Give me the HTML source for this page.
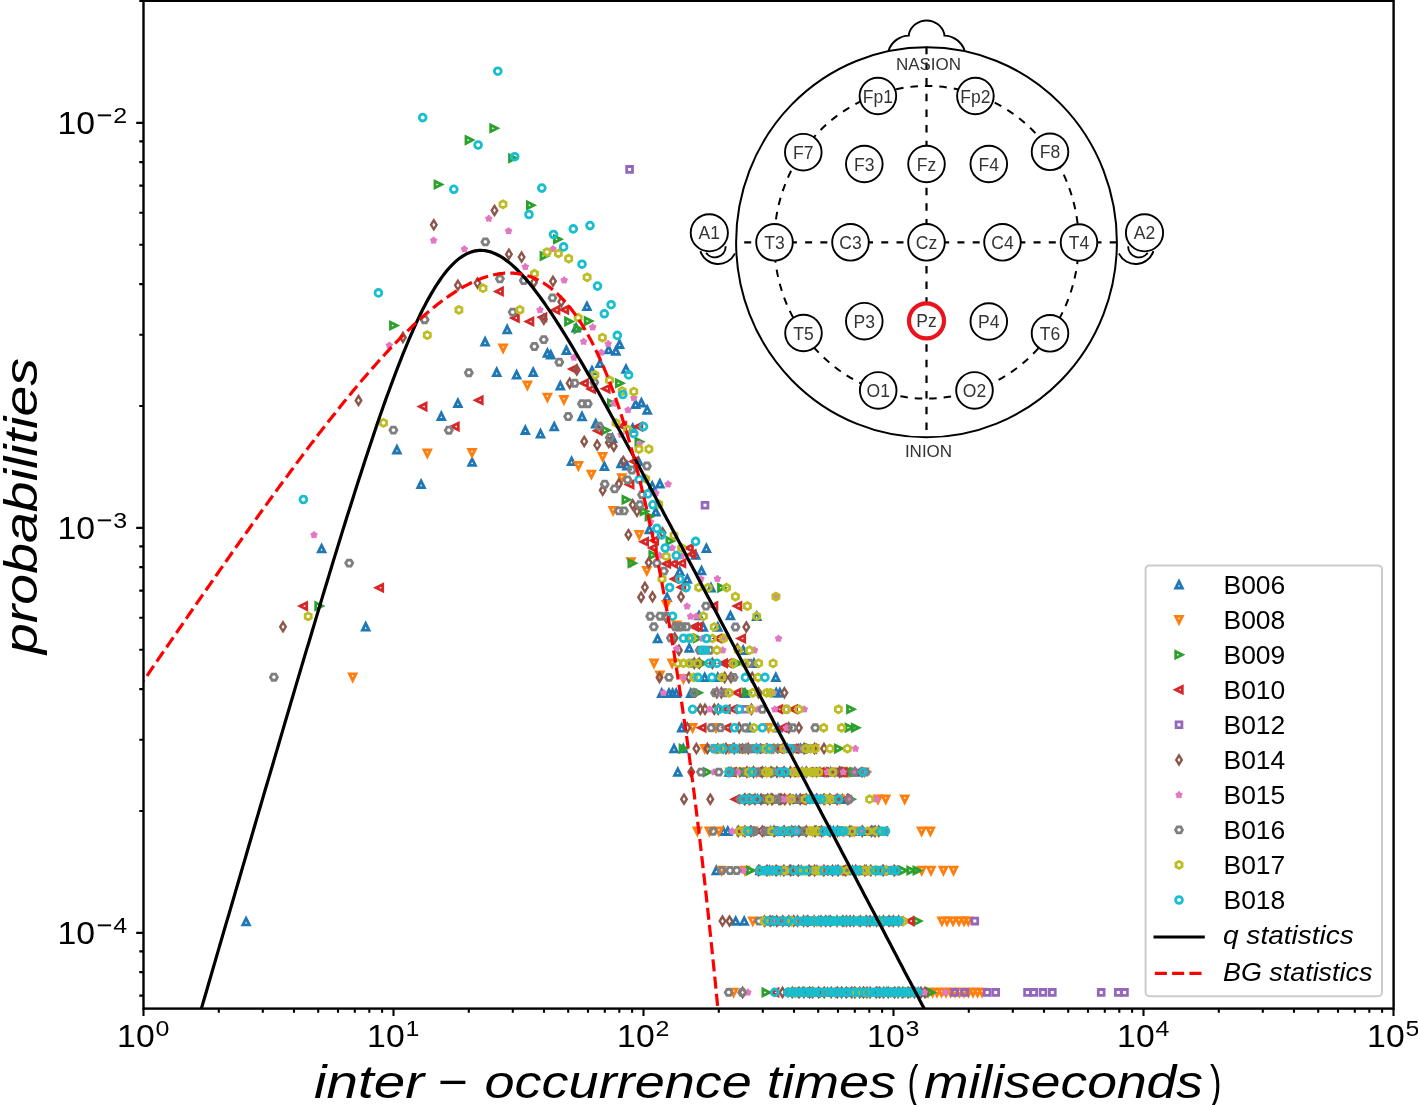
<!DOCTYPE html><html><head><meta charset="utf-8"><style>html,body{margin:0;padding:0;background:#fff;overflow:hidden}svg{display:block;will-change:transform}text{font-family:"Liberation Sans",sans-serif}</style></head><body>
<svg width="1418" height="1105" viewBox="0 0 1418 1105">
<rect width="1418" height="1105" fill="#fff"/>
<defs>
<path id="m0" d="M0,-3.3 L-3.3,3.3 L3.3,3.3 Z" fill="none" stroke="#1f77b4" stroke-width="2.8" stroke-linejoin="miter"/>
<path id="m1" d="M0,3.3 L-3.3,-3.3 L3.3,-3.3 Z" fill="none" stroke="#ff7f0e" stroke-width="2.8" stroke-linejoin="miter"/>
<path id="m2" d="M3.3,0 L-3.3,-3.3 L-3.3,3.3 Z" fill="none" stroke="#2ca02c" stroke-width="2.8" stroke-linejoin="miter"/>
<path id="m3" d="M-3.3,0 L3.3,-3.3 L3.3,3.3 Z" fill="none" stroke="#d62728" stroke-width="2.8" stroke-linejoin="miter"/>
<path id="m4" d="M-2.9,-2.9 L2.9,-2.9 L2.9,2.9 L-2.9,2.9 Z" fill="none" stroke="#9467bd" stroke-width="2.8" stroke-linejoin="miter"/>
<path id="m5" d="M0,-4.5 L2.8,0 L0,4.5 L-2.8,0 Z" fill="none" stroke="#8c564b" stroke-width="2.4" stroke-linejoin="miter"/>
<path id="m6" d="M0,-2.6 L0.91,-1.25 L2.47,-0.8 L1.47,0.48 L1.53,2.1 L0,1.55 L-1.53,2.1 L-1.47,0.48 L-2.47,-0.8 L-0.91,-1.25 Z" fill="#e377c2" stroke="#e377c2" stroke-width="2.4" stroke-linejoin="round"/>
<path id="m7" d="M3.5,0 L1.75,3.03 L-1.75,3.03 L-3.5,0 L-1.75,-3.03 L1.75,-3.03 Z" fill="none" stroke="#7f7f7f" stroke-width="2.8" stroke-linejoin="miter"/>
<path id="m8" d="M0,-3.5 L3.03,-1.75 L3.03,1.75 L0,3.5 L-3.03,1.75 L-3.03,-1.75 Z" fill="none" stroke="#bcbd22" stroke-width="2.8" stroke-linejoin="miter"/>
<circle id="m9" r="3.4" fill="none" stroke="#17becf" stroke-width="2.8"/>
<clipPath id="axclip"><rect x="143.5" y="0" width="1250.1" height="1008.6"/></clipPath>
</defs>
<g clip-path="url(#axclip)">
<use href="#m0" x="396.9" y="449.7"/>
<use href="#m0" x="421.1" y="484.3"/>
<use href="#m0" x="321.6" y="548.6"/>
<use href="#m0" x="365.7" y="626.8"/>
<use href="#m0" x="246.1" y="921.6"/>
<use href="#m0" x="507.2" y="329.5"/>
<use href="#m0" x="485.1" y="341.8"/>
<use href="#m0" x="547.4" y="353.1"/>
<use href="#m0" x="496.7" y="372.3"/>
<use href="#m0" x="516.6" y="374.8"/>
<use href="#m0" x="533.2" y="372.3"/>
<use href="#m0" x="457.9" y="403.2"/>
<use href="#m0" x="441.3" y="416.2"/>
<use href="#m0" x="525.3" y="430.2"/>
<use href="#m0" x="540.5" y="433.8"/>
<use href="#m0" x="554.2" y="426.6"/>
<use href="#m0" x="472.1" y="462.1"/>
<use href="#m0" x="586.9" y="306.4"/>
<use href="#m0" x="576.1" y="327.9"/>
<use href="#m0" x="619.5" y="344.2"/>
<use href="#m0" x="608.6" y="349.6"/>
<use href="#m0" x="615.9" y="351"/>
<use href="#m0" x="566.4" y="350.3"/>
<use href="#m0" x="550.7" y="354.7"/>
<use href="#m0" x="600" y="363.4"/>
<use href="#m0" x="592" y="370.6"/>
<use href="#m0" x="626" y="369.1"/>
<use href="#m0" x="560.3" y="385.8"/>
<use href="#m0" x="635.6" y="404.2"/>
<use href="#m0" x="641.4" y="402.7"/>
<use href="#m0" x="647.2" y="410"/>
<use href="#m0" x="582" y="416.5"/>
<use href="#m0" x="595.7" y="423.7"/>
<use href="#m0" x="632.7" y="428.1"/>
<use href="#m0" x="612.4" y="438.2"/>
<use href="#m0" x="571.6" y="461.4"/>
<use href="#m0" x="604.4" y="466.4"/>
<use href="#m0" x="621.1" y="463.5"/>
<use href="#m0" x="626.9" y="465.7"/>
<use href="#m0" x="638.5" y="461.4"/>
<use href="#m0" x="652.2" y="486"/>
<use href="#m0" x="659.9" y="483.8"/>
<use href="#m0" x="655.8" y="511.8"/>
<use href="#m0" x="649.3" y="529.6"/>
<use href="#m0" x="695.6" y="555"/>
<use href="#m0" x="679.7" y="571.4"/>
<use href="#m0" x="687.3" y="579"/>
<use href="#m0" x="667.1" y="597.4"/>
<use href="#m0" x="657.6" y="638.6"/>
<use href="#m0" x="689.2" y="648.1"/>
<use href="#m0" x="706.4" y="548.4"/>
<use href="#m0" x="701.5" y="570.6"/>
<use href="#m0" x="711" y="587.7"/>
<use href="#m0" x="699" y="615.6"/>
<use href="#m0" x="730.4" y="615.6"/>
<use href="#m0" x="756.7" y="616.2"/>
<use href="#m0" x="703.3" y="627"/>
<use href="#m0" x="717.8" y="627"/>
<use href="#m0" x="743.2" y="650.2"/>
<use href="#m0" x="754" y="663.3"/>
<use href="#m0" x="704.7" y="677.4"/>
<use href="#m0" x="717.8" y="677.4"/>
<use href="#m0" x="661.7" y="693.2"/>
<use href="#m0" x="669" y="693.2"/>
<use href="#m0" x="672.6" y="693.2"/>
<use href="#m0" x="676.2" y="693.2"/>
<use href="#m0" x="690.7" y="693.2"/>
<use href="#m0" x="745" y="693.2"/>
<use href="#m0" x="775.8" y="677.4"/>
<use href="#m0" x="776.2" y="692.8"/>
<use href="#m0" x="779.9" y="692.8"/>
<use href="#m0" x="792.5" y="992.4"/>
<use href="#m0" x="802.6" y="992.4"/>
<use href="#m0" x="818.3" y="992.4"/>
<use href="#m0" x="827.5" y="992.4"/>
<use href="#m0" x="841.9" y="992.4"/>
<use href="#m0" x="854.4" y="992.4"/>
<use href="#m0" x="863.5" y="992.4"/>
<use href="#m0" x="877.6" y="992.4"/>
<use href="#m0" x="886.4" y="992.4"/>
<use href="#m0" x="899.6" y="992.4"/>
<use href="#m0" x="908.8" y="992.4"/>
<use href="#m0" x="918.2" y="992.4"/>
<use href="#m0" x="735.7" y="921.1"/>
<use href="#m0" x="744.2" y="921.1"/>
<use href="#m0" x="772.6" y="921.1"/>
<use href="#m0" x="782.7" y="921.1"/>
<use href="#m0" x="793.9" y="921.1"/>
<use href="#m0" x="806.2" y="921.1"/>
<use href="#m0" x="818.7" y="921.1"/>
<use href="#m0" x="828.4" y="921.1"/>
<use href="#m0" x="846.3" y="921.1"/>
<use href="#m0" x="865.9" y="921.1"/>
<use href="#m0" x="879.5" y="921.1"/>
<use href="#m0" x="893.3" y="921.1"/>
<use href="#m0" x="716.3" y="870.5"/>
<use href="#m0" x="759.9" y="870.5"/>
<use href="#m0" x="769.6" y="870.5"/>
<use href="#m0" x="789.4" y="870.5"/>
<use href="#m0" x="801.2" y="870.5"/>
<use href="#m0" x="816.9" y="870.5"/>
<use href="#m0" x="835.8" y="870.5"/>
<use href="#m0" x="852.5" y="870.5"/>
<use href="#m0" x="866.3" y="870.5"/>
<use href="#m0" x="882.5" y="870.5"/>
<use href="#m0" x="723.3" y="831.2"/>
<use href="#m0" x="727.8" y="831.2"/>
<use href="#m0" x="750.6" y="831.2"/>
<use href="#m0" x="770.7" y="831.2"/>
<use href="#m0" x="783.6" y="831.2"/>
<use href="#m0" x="795.1" y="831.2"/>
<use href="#m0" x="816.5" y="831.2"/>
<use href="#m0" x="833.4" y="831.2"/>
<use href="#m0" x="851.9" y="831.2"/>
<use href="#m0" x="862.7" y="831.2"/>
<use href="#m0" x="873" y="831.2"/>
<use href="#m0" x="748.1" y="799.2"/>
<use href="#m0" x="757.7" y="799.2"/>
<use href="#m0" x="770.7" y="799.2"/>
<use href="#m0" x="781.5" y="799.2"/>
<use href="#m0" x="796.2" y="799.2"/>
<use href="#m0" x="806.3" y="799.2"/>
<use href="#m0" x="816.2" y="799.2"/>
<use href="#m0" x="829.7" y="799.2"/>
<use href="#m0" x="842.3" y="799.2"/>
<use href="#m0" x="677.8" y="772.1"/>
<use href="#m0" x="731.1" y="772.1"/>
<use href="#m0" x="746.9" y="772.1"/>
<use href="#m0" x="765.2" y="772.1"/>
<use href="#m0" x="784.6" y="772.1"/>
<use href="#m0" x="802.1" y="772.1"/>
<use href="#m0" x="819.9" y="772.1"/>
<use href="#m0" x="830.5" y="772.1"/>
<use href="#m0" x="842" y="772.1"/>
<use href="#m0" x="854.9" y="772.1"/>
<use href="#m0" x="729" y="772.1"/>
<use href="#m0" x="674" y="748.6"/>
<use href="#m0" x="683.3" y="748.6"/>
<use href="#m0" x="717.8" y="748.6"/>
<use href="#m0" x="732.9" y="748.6"/>
<use href="#m0" x="746" y="748.6"/>
<use href="#m0" x="756.2" y="748.6"/>
<use href="#m0" x="767.1" y="748.6"/>
<use href="#m0" x="787.4" y="748.6"/>
<use href="#m0" x="800.6" y="748.6"/>
<use href="#m0" x="681.7" y="727.8"/>
<use href="#m0" x="750" y="727.8"/>
<use href="#m0" x="777.9" y="727.8"/>
<use href="#m1" x="427.3" y="453.3"/>
<use href="#m1" x="352.7" y="677.2"/>
<use href="#m1" x="503.1" y="348.3"/>
<use href="#m1" x="527.4" y="385.3"/>
<use href="#m1" x="547.4" y="397.4"/>
<use href="#m1" x="472" y="452.7"/>
<use href="#m1" x="563.9" y="399.8"/>
<use href="#m1" x="602.6" y="456.7"/>
<use href="#m1" x="578.4" y="465.7"/>
<use href="#m1" x="591.4" y="474.4"/>
<use href="#m1" x="621.8" y="478"/>
<use href="#m1" x="613.1" y="510.6"/>
<use href="#m1" x="639.2" y="534.7"/>
<use href="#m1" x="630.9" y="561.9"/>
<use href="#m1" x="646.8" y="570.8"/>
<use href="#m1" x="666.4" y="604.8"/>
<use href="#m1" x="676.6" y="625.3"/>
<use href="#m1" x="654" y="663.3"/>
<use href="#m1" x="672.1" y="663.3"/>
<use href="#m1" x="659.9" y="675.1"/>
<use href="#m1" x="683.4" y="678.7"/>
<use href="#m1" x="733.6" y="992.4"/>
<use href="#m1" x="799.6" y="992.4"/>
<use href="#m1" x="809.4" y="992.4"/>
<use href="#m1" x="820.3" y="992.4"/>
<use href="#m1" x="835.7" y="992.4"/>
<use href="#m1" x="854.7" y="992.4"/>
<use href="#m1" x="869.6" y="992.4"/>
<use href="#m1" x="882.4" y="992.4"/>
<use href="#m1" x="901.7" y="992.4"/>
<use href="#m1" x="910.7" y="992.4"/>
<use href="#m1" x="928" y="992.4"/>
<use href="#m1" x="932.5" y="992.4"/>
<use href="#m1" x="937" y="992.4"/>
<use href="#m1" x="941.5" y="992.4"/>
<use href="#m1" x="946" y="992.4"/>
<use href="#m1" x="950.5" y="992.4"/>
<use href="#m1" x="955" y="992.4"/>
<use href="#m1" x="959.5" y="992.4"/>
<use href="#m1" x="964" y="992.4"/>
<use href="#m1" x="968.5" y="992.4"/>
<use href="#m1" x="973" y="992.4"/>
<use href="#m1" x="977.5" y="992.4"/>
<use href="#m1" x="982" y="992.4"/>
<use href="#m1" x="752.8" y="921.1"/>
<use href="#m1" x="765.4" y="921.1"/>
<use href="#m1" x="777.7" y="921.1"/>
<use href="#m1" x="789" y="921.1"/>
<use href="#m1" x="806.7" y="921.1"/>
<use href="#m1" x="816.9" y="921.1"/>
<use href="#m1" x="825.6" y="921.1"/>
<use href="#m1" x="844.6" y="921.1"/>
<use href="#m1" x="859" y="921.1"/>
<use href="#m1" x="869" y="921.1"/>
<use href="#m1" x="883.5" y="921.1"/>
<use href="#m1" x="892.2" y="921.1"/>
<use href="#m1" x="941.9" y="921.1"/>
<use href="#m1" x="947" y="921.1"/>
<use href="#m1" x="953" y="921.1"/>
<use href="#m1" x="959" y="921.1"/>
<use href="#m1" x="964" y="921.1"/>
<use href="#m1" x="968.3" y="921.1"/>
<use href="#m1" x="721.7" y="870.5"/>
<use href="#m1" x="745" y="870.5"/>
<use href="#m1" x="769.5" y="870.5"/>
<use href="#m1" x="780.5" y="870.5"/>
<use href="#m1" x="797.3" y="870.5"/>
<use href="#m1" x="810.1" y="870.5"/>
<use href="#m1" x="823.2" y="870.5"/>
<use href="#m1" x="842.7" y="870.5"/>
<use href="#m1" x="858.8" y="870.5"/>
<use href="#m1" x="875.6" y="870.5"/>
<use href="#m1" x="894.9" y="870.5"/>
<use href="#m1" x="921.7" y="870.5"/>
<use href="#m1" x="931" y="870.5"/>
<use href="#m1" x="943.4" y="870.5"/>
<use href="#m1" x="953.5" y="870.5"/>
<use href="#m1" x="697.4" y="831.2"/>
<use href="#m1" x="709.3" y="831.2"/>
<use href="#m1" x="718.9" y="831.2"/>
<use href="#m1" x="742.8" y="831.2"/>
<use href="#m1" x="753.3" y="831.2"/>
<use href="#m1" x="774.9" y="831.2"/>
<use href="#m1" x="792.7" y="831.2"/>
<use href="#m1" x="812.5" y="831.2"/>
<use href="#m1" x="823.2" y="831.2"/>
<use href="#m1" x="843.8" y="831.2"/>
<use href="#m1" x="854.2" y="831.2"/>
<use href="#m1" x="874.9" y="831.2"/>
<use href="#m1" x="921.6" y="831.2"/>
<use href="#m1" x="930.4" y="831.2"/>
<use href="#m1" x="748.5" y="799.2"/>
<use href="#m1" x="767.7" y="799.2"/>
<use href="#m1" x="785.7" y="799.2"/>
<use href="#m1" x="804.5" y="799.2"/>
<use href="#m1" x="825.3" y="799.2"/>
<use href="#m1" x="839.9" y="799.2"/>
<use href="#m1" x="878" y="799.2"/>
<use href="#m1" x="885.7" y="799.2"/>
<use href="#m1" x="904.7" y="799.2"/>
<use href="#m1" x="729.9" y="772.1"/>
<use href="#m1" x="746.7" y="772.1"/>
<use href="#m1" x="756.5" y="772.1"/>
<use href="#m1" x="766.9" y="772.1"/>
<use href="#m1" x="779.9" y="772.1"/>
<use href="#m1" x="798.1" y="772.1"/>
<use href="#m1" x="816.6" y="772.1"/>
<use href="#m1" x="834.8" y="772.1"/>
<use href="#m1" x="848.1" y="772.1"/>
<use href="#m1" x="864.4" y="772.1"/>
<use href="#m1" x="739.6" y="772.1"/>
<use href="#m1" x="704.7" y="748.6"/>
<use href="#m1" x="716" y="748.6"/>
<use href="#m1" x="729" y="748.6"/>
<use href="#m1" x="745.1" y="748.6"/>
<use href="#m1" x="757.2" y="748.6"/>
<use href="#m1" x="771.5" y="748.6"/>
<use href="#m1" x="793.4" y="748.6"/>
<use href="#m1" x="814.3" y="748.6"/>
<use href="#m1" x="692.6" y="727.8"/>
<use href="#m1" x="715.9" y="727.8"/>
<use href="#m1" x="768.6" y="727.8"/>
<use href="#m2" x="393.8" y="325.5"/>
<use href="#m2" x="319" y="606.1"/>
<use href="#m2" x="494" y="128.2"/>
<use href="#m2" x="469.3" y="140.1"/>
<use href="#m2" x="512.8" y="158.3"/>
<use href="#m2" x="438.3" y="184.5"/>
<use href="#m2" x="530.7" y="205.2"/>
<use href="#m2" x="557.7" y="239.3"/>
<use href="#m2" x="544.3" y="256"/>
<use href="#m2" x="568.8" y="321.4"/>
<use href="#m2" x="588.4" y="321.1"/>
<use href="#m2" x="578.2" y="328.9"/>
<use href="#m2" x="619.6" y="383.2"/>
<use href="#m2" x="611.7" y="403.2"/>
<use href="#m2" x="605.9" y="430.2"/>
<use href="#m2" x="639.2" y="441.8"/>
<use href="#m2" x="626.2" y="499.7"/>
<use href="#m2" x="644.3" y="511.3"/>
<use href="#m2" x="649.3" y="516.4"/>
<use href="#m2" x="670.2" y="541"/>
<use href="#m2" x="653.1" y="555"/>
<use href="#m2" x="632.2" y="563.2"/>
<use href="#m2" x="697.5" y="638.3"/>
<use href="#m2" x="721.8" y="587.7"/>
<use href="#m2" x="702.4" y="663.3"/>
<use href="#m2" x="737.7" y="663.3"/>
<use href="#m2" x="697.9" y="692.8"/>
<use href="#m2" x="746.8" y="692.8"/>
<use href="#m2" x="766.2" y="992.4"/>
<use href="#m2" x="792.1" y="992.4"/>
<use href="#m2" x="802.1" y="992.4"/>
<use href="#m2" x="811.8" y="992.4"/>
<use href="#m2" x="823.6" y="992.4"/>
<use href="#m2" x="841.2" y="992.4"/>
<use href="#m2" x="851.6" y="992.4"/>
<use href="#m2" x="866.5" y="992.4"/>
<use href="#m2" x="882.1" y="992.4"/>
<use href="#m2" x="894.6" y="992.4"/>
<use href="#m2" x="909.2" y="992.4"/>
<use href="#m2" x="918.3" y="992.4"/>
<use href="#m2" x="930.7" y="992.4"/>
<use href="#m2" x="777.7" y="921.1"/>
<use href="#m2" x="795.8" y="921.1"/>
<use href="#m2" x="812" y="921.1"/>
<use href="#m2" x="823.3" y="921.1"/>
<use href="#m2" x="835.8" y="921.1"/>
<use href="#m2" x="846.1" y="921.1"/>
<use href="#m2" x="863.1" y="921.1"/>
<use href="#m2" x="877.5" y="921.1"/>
<use href="#m2" x="894.6" y="921.1"/>
<use href="#m2" x="917.5" y="921.1"/>
<use href="#m2" x="750.7" y="870.5"/>
<use href="#m2" x="764.1" y="870.5"/>
<use href="#m2" x="781.5" y="870.5"/>
<use href="#m2" x="797.6" y="870.5"/>
<use href="#m2" x="813.8" y="870.5"/>
<use href="#m2" x="832.2" y="870.5"/>
<use href="#m2" x="847.6" y="870.5"/>
<use href="#m2" x="864" y="870.5"/>
<use href="#m2" x="879.8" y="870.5"/>
<use href="#m2" x="903.3" y="870.5"/>
<use href="#m2" x="911" y="870.5"/>
<use href="#m2" x="917.2" y="870.5"/>
<use href="#m2" x="741.4" y="831.2"/>
<use href="#m2" x="758.1" y="831.2"/>
<use href="#m2" x="779.6" y="831.2"/>
<use href="#m2" x="792.6" y="831.2"/>
<use href="#m2" x="803.8" y="831.2"/>
<use href="#m2" x="820.2" y="831.2"/>
<use href="#m2" x="832.8" y="831.2"/>
<use href="#m2" x="843.8" y="831.2"/>
<use href="#m2" x="855.5" y="831.2"/>
<use href="#m2" x="865.8" y="831.2"/>
<use href="#m2" x="877.9" y="831.2"/>
<use href="#m2" x="755.8" y="799.2"/>
<use href="#m2" x="767.3" y="799.2"/>
<use href="#m2" x="786.1" y="799.2"/>
<use href="#m2" x="804" y="799.2"/>
<use href="#m2" x="814.1" y="799.2"/>
<use href="#m2" x="834.4" y="799.2"/>
<use href="#m2" x="850.8" y="799.2"/>
<use href="#m2" x="707.4" y="772.1"/>
<use href="#m2" x="732.5" y="772.1"/>
<use href="#m2" x="743.6" y="772.1"/>
<use href="#m2" x="764.6" y="772.1"/>
<use href="#m2" x="776.8" y="772.1"/>
<use href="#m2" x="798.9" y="772.1"/>
<use href="#m2" x="820.5" y="772.1"/>
<use href="#m2" x="830.3" y="772.1"/>
<use href="#m2" x="845.8" y="772.1"/>
<use href="#m2" x="865.9" y="772.1"/>
<use href="#m2" x="830.7" y="772.1"/>
<use href="#m2" x="850.1" y="772.1"/>
<use href="#m2" x="854.1" y="772.1"/>
<use href="#m2" x="683.3" y="748.6"/>
<use href="#m2" x="722.1" y="748.6"/>
<use href="#m2" x="743.4" y="748.6"/>
<use href="#m2" x="765" y="748.6"/>
<use href="#m2" x="781.7" y="748.6"/>
<use href="#m2" x="800.5" y="748.6"/>
<use href="#m2" x="810.7" y="748.6"/>
<use href="#m2" x="746.6" y="748.6"/>
<use href="#m2" x="838.7" y="748.6"/>
<use href="#m2" x="849.3" y="727.8"/>
<use href="#m2" x="855.5" y="727.8"/>
<use href="#m2" x="850.8" y="709.3"/>
<use href="#m3" x="422.8" y="406.6"/>
<use href="#m3" x="379.4" y="587.7"/>
<use href="#m3" x="303.4" y="606.1"/>
<use href="#m3" x="499.2" y="291.4"/>
<use href="#m3" x="515.1" y="317.9"/>
<use href="#m3" x="529.6" y="321.5"/>
<use href="#m3" x="542.6" y="317.2"/>
<use href="#m3" x="555.7" y="309.9"/>
<use href="#m3" x="478.9" y="400.3"/>
<use href="#m3" x="455" y="426.6"/>
<use href="#m3" x="564.5" y="309.8"/>
<use href="#m3" x="573.2" y="369.1"/>
<use href="#m3" x="584.2" y="383.2"/>
<use href="#m3" x="591.4" y="389"/>
<use href="#m3" x="605.9" y="388.7"/>
<use href="#m3" x="597.9" y="430.7"/>
<use href="#m3" x="622.5" y="425.9"/>
<use href="#m3" x="638.5" y="426.6"/>
<use href="#m3" x="634.1" y="461.4"/>
<use href="#m3" x="629.8" y="484.5"/>
<use href="#m3" x="644.3" y="541.7"/>
<use href="#m3" x="654.4" y="540.4"/>
<use href="#m3" x="653.1" y="548"/>
<use href="#m3" x="689.2" y="548"/>
<use href="#m3" x="691.8" y="554.3"/>
<use href="#m3" x="666.4" y="563.8"/>
<use href="#m3" x="673.4" y="563.8"/>
<use href="#m3" x="681.6" y="563.2"/>
<use href="#m3" x="674.7" y="579"/>
<use href="#m3" x="681.6" y="587.3"/>
<use href="#m3" x="694.3" y="626.8"/>
<use href="#m3" x="698.1" y="626.8"/>
<use href="#m3" x="713.6" y="606.1"/>
<use href="#m3" x="737.6" y="606.1"/>
<use href="#m3" x="717.8" y="638.5"/>
<use href="#m3" x="741.4" y="638.5"/>
<use href="#m3" x="723.3" y="663.3"/>
<use href="#m3" x="727.8" y="663.3"/>
<use href="#m3" x="736.8" y="692.8"/>
<use href="#m3" x="774.7" y="992.4"/>
<use href="#m3" x="790.9" y="992.4"/>
<use href="#m3" x="806.9" y="992.4"/>
<use href="#m3" x="820.1" y="992.4"/>
<use href="#m3" x="832" y="992.4"/>
<use href="#m3" x="847" y="992.4"/>
<use href="#m3" x="860.4" y="992.4"/>
<use href="#m3" x="872.2" y="992.4"/>
<use href="#m3" x="889.5" y="992.4"/>
<use href="#m3" x="905.7" y="992.4"/>
<use href="#m3" x="916.9" y="992.4"/>
<use href="#m3" x="767.1" y="921.1"/>
<use href="#m3" x="784.6" y="921.1"/>
<use href="#m3" x="804" y="921.1"/>
<use href="#m3" x="822" y="921.1"/>
<use href="#m3" x="839.4" y="921.1"/>
<use href="#m3" x="857" y="921.1"/>
<use href="#m3" x="873.7" y="921.1"/>
<use href="#m3" x="884.6" y="921.1"/>
<use href="#m3" x="898.8" y="921.1"/>
<use href="#m3" x="910" y="921.1"/>
<use href="#m3" x="768.2" y="870.5"/>
<use href="#m3" x="789" y="870.5"/>
<use href="#m3" x="810.7" y="870.5"/>
<use href="#m3" x="823.6" y="870.5"/>
<use href="#m3" x="840.4" y="870.5"/>
<use href="#m3" x="862" y="870.5"/>
<use href="#m3" x="882.4" y="870.5"/>
<use href="#m3" x="893.7" y="870.5"/>
<use href="#m3" x="740.9" y="831.2"/>
<use href="#m3" x="760.2" y="831.2"/>
<use href="#m3" x="773.5" y="831.2"/>
<use href="#m3" x="789.5" y="831.2"/>
<use href="#m3" x="801.4" y="831.2"/>
<use href="#m3" x="815.4" y="831.2"/>
<use href="#m3" x="825.3" y="831.2"/>
<use href="#m3" x="838.1" y="831.2"/>
<use href="#m3" x="847.9" y="831.2"/>
<use href="#m3" x="866.9" y="831.2"/>
<use href="#m3" x="883.5" y="831.2"/>
<use href="#m3" x="759.6" y="831.2"/>
<use href="#m3" x="735.6" y="799.2"/>
<use href="#m3" x="750" y="799.2"/>
<use href="#m3" x="769" y="799.2"/>
<use href="#m3" x="789" y="799.2"/>
<use href="#m3" x="800.4" y="799.2"/>
<use href="#m3" x="816.7" y="799.2"/>
<use href="#m3" x="832.8" y="799.2"/>
<use href="#m3" x="763" y="799.2"/>
<use href="#m3" x="799.2" y="799.2"/>
<use href="#m3" x="845.4" y="799.2"/>
<use href="#m3" x="732.2" y="772.1"/>
<use href="#m3" x="745.2" y="772.1"/>
<use href="#m3" x="757.5" y="772.1"/>
<use href="#m3" x="779.2" y="772.1"/>
<use href="#m3" x="791.5" y="772.1"/>
<use href="#m3" x="808.6" y="772.1"/>
<use href="#m3" x="820" y="772.1"/>
<use href="#m3" x="836.3" y="772.1"/>
<use href="#m3" x="858.1" y="772.1"/>
<use href="#m3" x="824" y="772.1"/>
<use href="#m3" x="837.4" y="772.1"/>
<use href="#m3" x="840" y="772.1"/>
<use href="#m3" x="842.8" y="772.1"/>
<use href="#m3" x="719.2" y="748.6"/>
<use href="#m3" x="738.4" y="748.6"/>
<use href="#m3" x="756.3" y="748.6"/>
<use href="#m3" x="769.6" y="748.6"/>
<use href="#m3" x="779.8" y="748.6"/>
<use href="#m3" x="801.3" y="748.6"/>
<use href="#m3" x="812.5" y="748.6"/>
<use href="#m3" x="762.4" y="748.6"/>
<use href="#m3" x="778.4" y="748.6"/>
<use href="#m3" x="794.5" y="748.6"/>
<use href="#m3" x="701.9" y="727.8"/>
<use href="#m3" x="726.7" y="727.8"/>
<use href="#m3" x="782.6" y="727.8"/>
<use href="#m3" x="726" y="709.3"/>
<use href="#m3" x="733" y="709.3"/>
<use href="#m3" x="778.5" y="709.3"/>
<use href="#m3" x="793.4" y="709.3"/>
<use href="#m4" x="629.6" y="169.4"/>
<use href="#m4" x="705" y="505.3"/>
<use href="#m4" x="954.6" y="992.4"/>
<use href="#m4" x="964.7" y="992.4"/>
<use href="#m4" x="987.1" y="992.4"/>
<use href="#m4" x="995.7" y="992.4"/>
<use href="#m4" x="1027.5" y="992.4"/>
<use href="#m4" x="1033.7" y="992.4"/>
<use href="#m4" x="1043" y="992.4"/>
<use href="#m4" x="1052.3" y="992.4"/>
<use href="#m4" x="1101.2" y="992.4"/>
<use href="#m4" x="1118.3" y="992.4"/>
<use href="#m4" x="1124.5" y="992.4"/>
<use href="#m4" x="974.8" y="921.1"/>
<use href="#m4" x="888.5" y="870.5"/>
<use href="#m4" x="745.3" y="709.3"/>
<use href="#m5" x="402.9" y="337.5"/>
<use href="#m5" x="358.5" y="400.5"/>
<use href="#m5" x="283" y="626.8"/>
<use href="#m5" x="494.5" y="210.4"/>
<use href="#m5" x="433.8" y="224.8"/>
<use href="#m5" x="553" y="281.3"/>
<use href="#m5" x="508.9" y="254.2"/>
<use href="#m5" x="521.6" y="257.1"/>
<use href="#m5" x="457.9" y="285.3"/>
<use href="#m5" x="477.5" y="283.1"/>
<use href="#m5" x="533.9" y="282.4"/>
<use href="#m5" x="543.8" y="319.3"/>
<use href="#m5" x="561.3" y="301.8"/>
<use href="#m5" x="576.8" y="369.9"/>
<use href="#m5" x="569.7" y="383.2"/>
<use href="#m5" x="584.2" y="441.4"/>
<use href="#m5" x="597.2" y="445.1"/>
<use href="#m5" x="608.8" y="442.5"/>
<use href="#m5" x="613.8" y="446.2"/>
<use href="#m5" x="623.3" y="461.4"/>
<use href="#m5" x="618.9" y="483.8"/>
<use href="#m5" x="602.7" y="490.3"/>
<use href="#m5" x="632.7" y="504.8"/>
<use href="#m5" x="637" y="511.3"/>
<use href="#m5" x="628.4" y="534.7"/>
<use href="#m5" x="662.6" y="532.8"/>
<use href="#m5" x="648.7" y="562.6"/>
<use href="#m5" x="644.9" y="587.3"/>
<use href="#m5" x="641.1" y="597.2"/>
<use href="#m5" x="652.5" y="596.8"/>
<use href="#m5" x="681" y="596.8"/>
<use href="#m5" x="666.4" y="617.7"/>
<use href="#m5" x="674.7" y="638"/>
<use href="#m5" x="746.3" y="627"/>
<use href="#m5" x="678.9" y="650.2"/>
<use href="#m5" x="737.3" y="648.9"/>
<use href="#m5" x="694.3" y="663.3"/>
<use href="#m5" x="699.3" y="663.3"/>
<use href="#m5" x="712.4" y="663.3"/>
<use href="#m5" x="659.5" y="677.4"/>
<use href="#m5" x="688.9" y="677.4"/>
<use href="#m5" x="724.6" y="677.4"/>
<use href="#m5" x="731" y="677.4"/>
<use href="#m5" x="752.2" y="677.4"/>
<use href="#m5" x="716.9" y="692.8"/>
<use href="#m5" x="721.4" y="692.8"/>
<use href="#m5" x="758.6" y="692.8"/>
<use href="#m5" x="784.4" y="692.8"/>
<use href="#m5" x="742.6" y="992.4"/>
<use href="#m5" x="782.5" y="992.4"/>
<use href="#m5" x="792.2" y="992.4"/>
<use href="#m5" x="799" y="992.4"/>
<use href="#m5" x="803.9" y="992.4"/>
<use href="#m5" x="809.5" y="992.4"/>
<use href="#m5" x="812.8" y="992.4"/>
<use href="#m5" x="818.6" y="992.4"/>
<use href="#m5" x="824.2" y="992.4"/>
<use href="#m5" x="831.1" y="992.4"/>
<use href="#m5" x="837.4" y="992.4"/>
<use href="#m5" x="841.6" y="992.4"/>
<use href="#m5" x="846.1" y="992.4"/>
<use href="#m5" x="851.8" y="992.4"/>
<use href="#m5" x="854.9" y="992.4"/>
<use href="#m5" x="859.7" y="992.4"/>
<use href="#m5" x="863.4" y="992.4"/>
<use href="#m5" x="866.9" y="992.4"/>
<use href="#m5" x="870.1" y="992.4"/>
<use href="#m5" x="876.2" y="992.4"/>
<use href="#m5" x="879.7" y="992.4"/>
<use href="#m5" x="883.7" y="992.4"/>
<use href="#m5" x="888.2" y="992.4"/>
<use href="#m5" x="894.7" y="992.4"/>
<use href="#m5" x="898.1" y="992.4"/>
<use href="#m5" x="902.8" y="992.4"/>
<use href="#m5" x="908" y="992.4"/>
<use href="#m5" x="914.6" y="992.4"/>
<use href="#m5" x="920.9" y="992.4"/>
<use href="#m5" x="925" y="992.4"/>
<use href="#m5" x="722.5" y="921.1"/>
<use href="#m5" x="729.5" y="921.1"/>
<use href="#m5" x="764.4" y="921.1"/>
<use href="#m5" x="770.1" y="921.1"/>
<use href="#m5" x="776.7" y="921.1"/>
<use href="#m5" x="782.8" y="921.1"/>
<use href="#m5" x="788.8" y="921.1"/>
<use href="#m5" x="793.7" y="921.1"/>
<use href="#m5" x="797.5" y="921.1"/>
<use href="#m5" x="803.6" y="921.1"/>
<use href="#m5" x="807.9" y="921.1"/>
<use href="#m5" x="814.2" y="921.1"/>
<use href="#m5" x="821" y="921.1"/>
<use href="#m5" x="825.6" y="921.1"/>
<use href="#m5" x="830.2" y="921.1"/>
<use href="#m5" x="837" y="921.1"/>
<use href="#m5" x="842.9" y="921.1"/>
<use href="#m5" x="846.6" y="921.1"/>
<use href="#m5" x="850.1" y="921.1"/>
<use href="#m5" x="853.7" y="921.1"/>
<use href="#m5" x="860.3" y="921.1"/>
<use href="#m5" x="866.6" y="921.1"/>
<use href="#m5" x="870.1" y="921.1"/>
<use href="#m5" x="876.4" y="921.1"/>
<use href="#m5" x="883.4" y="921.1"/>
<use href="#m5" x="889" y="921.1"/>
<use href="#m5" x="893.4" y="921.1"/>
<use href="#m5" x="898.6" y="921.1"/>
<use href="#m5" x="758.5" y="870.5"/>
<use href="#m5" x="767" y="870.5"/>
<use href="#m5" x="776.1" y="870.5"/>
<use href="#m5" x="783.9" y="870.5"/>
<use href="#m5" x="790.7" y="870.5"/>
<use href="#m5" x="798.4" y="870.5"/>
<use href="#m5" x="809" y="870.5"/>
<use href="#m5" x="814.6" y="870.5"/>
<use href="#m5" x="823.9" y="870.5"/>
<use href="#m5" x="832.5" y="870.5"/>
<use href="#m5" x="838" y="870.5"/>
<use href="#m5" x="845.8" y="870.5"/>
<use href="#m5" x="855.7" y="870.5"/>
<use href="#m5" x="864.8" y="870.5"/>
<use href="#m5" x="870.7" y="870.5"/>
<use href="#m5" x="883.2" y="870.5"/>
<use href="#m5" x="894.2" y="870.5"/>
<use href="#m5" x="738.3" y="831.2"/>
<use href="#m5" x="744.9" y="831.2"/>
<use href="#m5" x="750.9" y="831.2"/>
<use href="#m5" x="762.3" y="831.2"/>
<use href="#m5" x="774" y="831.2"/>
<use href="#m5" x="784.2" y="831.2"/>
<use href="#m5" x="791.7" y="831.2"/>
<use href="#m5" x="798.8" y="831.2"/>
<use href="#m5" x="806.3" y="831.2"/>
<use href="#m5" x="815" y="831.2"/>
<use href="#m5" x="821.6" y="831.2"/>
<use href="#m5" x="830.2" y="831.2"/>
<use href="#m5" x="837.5" y="831.2"/>
<use href="#m5" x="849.8" y="831.2"/>
<use href="#m5" x="862.2" y="831.2"/>
<use href="#m5" x="871.5" y="831.2"/>
<use href="#m5" x="878.7" y="831.2"/>
<use href="#m5" x="875.1" y="831.2"/>
<use href="#m5" x="684" y="799.2"/>
<use href="#m5" x="710.3" y="799.2"/>
<use href="#m5" x="744.4" y="799.2"/>
<use href="#m5" x="749.8" y="799.2"/>
<use href="#m5" x="761" y="799.2"/>
<use href="#m5" x="771.8" y="799.2"/>
<use href="#m5" x="780.8" y="799.2"/>
<use href="#m5" x="790" y="799.2"/>
<use href="#m5" x="800.2" y="799.2"/>
<use href="#m5" x="806.1" y="799.2"/>
<use href="#m5" x="816.8" y="799.2"/>
<use href="#m5" x="824" y="799.2"/>
<use href="#m5" x="829.9" y="799.2"/>
<use href="#m5" x="837.2" y="799.2"/>
<use href="#m5" x="847.9" y="799.2"/>
<use href="#m5" x="745" y="799.2"/>
<use href="#m5" x="755" y="799.2"/>
<use href="#m5" x="767.7" y="799.2"/>
<use href="#m5" x="772" y="799.2"/>
<use href="#m5" x="779" y="799.2"/>
<use href="#m5" x="784.5" y="799.2"/>
<use href="#m5" x="691.3" y="772.1"/>
<use href="#m5" x="753.5" y="772.1"/>
<use href="#m5" x="806.4" y="772.1"/>
<use href="#m5" x="839.6" y="772.1"/>
<use href="#m5" x="747" y="772.1"/>
<use href="#m5" x="753.5" y="772.1"/>
<use href="#m5" x="762.4" y="772.1"/>
<use href="#m5" x="771.1" y="772.1"/>
<use href="#m5" x="777" y="772.1"/>
<use href="#m5" x="784" y="772.1"/>
<use href="#m5" x="790.5" y="772.1"/>
<use href="#m5" x="696.4" y="748.6"/>
<use href="#m5" x="707.4" y="748.6"/>
<use href="#m5" x="748.3" y="748.6"/>
<use href="#m5" x="804.1" y="748.6"/>
<use href="#m5" x="725.9" y="748.6"/>
<use href="#m5" x="734.2" y="748.6"/>
<use href="#m5" x="814.6" y="748.6"/>
<use href="#m5" x="824" y="748.6"/>
<use href="#m5" x="687.2" y="727.8"/>
<use href="#m5" x="739.1" y="727.8"/>
<use href="#m5" x="788.8" y="727.8"/>
<use href="#m5" x="798.9" y="727.8"/>
<use href="#m5" x="700.3" y="709.3"/>
<use href="#m5" x="705" y="709.3"/>
<use href="#m5" x="714.3" y="709.3"/>
<use href="#m5" x="718.2" y="709.3"/>
<use href="#m5" x="751.5" y="709.3"/>
<use href="#m6" x="389.3" y="345.4"/>
<use href="#m6" x="314" y="534.9"/>
<use href="#m6" x="488.8" y="218.6"/>
<use href="#m6" x="553" y="249"/>
<use href="#m6" x="564.2" y="280.2"/>
<use href="#m6" x="433.6" y="240.4"/>
<use href="#m6" x="464.4" y="249.1"/>
<use href="#m6" x="508.6" y="231"/>
<use href="#m6" x="525.3" y="266.8"/>
<use href="#m6" x="540" y="309.9"/>
<use href="#m6" x="592.7" y="327.2"/>
<use href="#m6" x="583.6" y="341.6"/>
<use href="#m6" x="608.2" y="343.8"/>
<use href="#m6" x="601.4" y="352.5"/>
<use href="#m6" x="573.9" y="357.6"/>
<use href="#m6" x="633.8" y="397.9"/>
<use href="#m6" x="613.8" y="403.4"/>
<use href="#m6" x="628" y="410"/>
<use href="#m6" x="621.1" y="434.6"/>
<use href="#m6" x="639.6" y="444"/>
<use href="#m6" x="668.1" y="484.2"/>
<use href="#m6" x="655.8" y="493.2"/>
<use href="#m6" x="650.6" y="522"/>
<use href="#m6" x="672.1" y="548"/>
<use href="#m6" x="659.5" y="555.4"/>
<use href="#m6" x="681.6" y="556.2"/>
<use href="#m6" x="687.1" y="606.3"/>
<use href="#m6" x="690.5" y="616.4"/>
<use href="#m6" x="696.2" y="616.4"/>
<use href="#m6" x="676.6" y="648.7"/>
<use href="#m6" x="700.9" y="578.8"/>
<use href="#m6" x="717.4" y="578.8"/>
<use href="#m6" x="776.9" y="596.3"/>
<use href="#m6" x="702.4" y="638.5"/>
<use href="#m6" x="724.6" y="638.5"/>
<use href="#m6" x="722.8" y="650.2"/>
<use href="#m6" x="754.5" y="650.2"/>
<use href="#m6" x="683.4" y="677.4"/>
<use href="#m6" x="663.5" y="692.8"/>
<use href="#m6" x="720.1" y="692.8"/>
<use href="#m6" x="778.5" y="638.5"/>
<use href="#m6" x="773.5" y="692.8"/>
<use href="#m6" x="747.9" y="992.4"/>
<use href="#m6" x="795.4" y="992.4"/>
<use href="#m6" x="813.6" y="992.4"/>
<use href="#m6" x="830.1" y="992.4"/>
<use href="#m6" x="841.7" y="992.4"/>
<use href="#m6" x="861.1" y="992.4"/>
<use href="#m6" x="870.8" y="992.4"/>
<use href="#m6" x="883.9" y="992.4"/>
<use href="#m6" x="900.8" y="992.4"/>
<use href="#m6" x="910.9" y="992.4"/>
<use href="#m6" x="924.5" y="992.4"/>
<use href="#m6" x="945.3" y="992.4"/>
<use href="#m6" x="764.4" y="921.1"/>
<use href="#m6" x="773.1" y="921.1"/>
<use href="#m6" x="784.6" y="921.1"/>
<use href="#m6" x="796" y="921.1"/>
<use href="#m6" x="812.1" y="921.1"/>
<use href="#m6" x="831.2" y="921.1"/>
<use href="#m6" x="844.6" y="921.1"/>
<use href="#m6" x="863.5" y="921.1"/>
<use href="#m6" x="883" y="921.1"/>
<use href="#m6" x="743.3" y="870.5"/>
<use href="#m6" x="764.1" y="870.5"/>
<use href="#m6" x="774.6" y="870.5"/>
<use href="#m6" x="787.3" y="870.5"/>
<use href="#m6" x="797.8" y="870.5"/>
<use href="#m6" x="816" y="870.5"/>
<use href="#m6" x="835.6" y="870.5"/>
<use href="#m6" x="856.7" y="870.5"/>
<use href="#m6" x="868.3" y="870.5"/>
<use href="#m6" x="887" y="870.5"/>
<use href="#m6" x="732.2" y="831.2"/>
<use href="#m6" x="743.6" y="831.2"/>
<use href="#m6" x="765.2" y="831.2"/>
<use href="#m6" x="776.1" y="831.2"/>
<use href="#m6" x="796.2" y="831.2"/>
<use href="#m6" x="811.3" y="831.2"/>
<use href="#m6" x="827.3" y="831.2"/>
<use href="#m6" x="847.6" y="831.2"/>
<use href="#m6" x="862.2" y="831.2"/>
<use href="#m6" x="878.3" y="831.2"/>
<use href="#m6" x="763.3" y="831.2"/>
<use href="#m6" x="752.9" y="799.2"/>
<use href="#m6" x="773.1" y="799.2"/>
<use href="#m6" x="790.1" y="799.2"/>
<use href="#m6" x="811.2" y="799.2"/>
<use href="#m6" x="829.5" y="799.2"/>
<use href="#m6" x="848" y="799.2"/>
<use href="#m6" x="782.5" y="799.2"/>
<use href="#m6" x="786" y="799.2"/>
<use href="#m6" x="876.3" y="799.2"/>
<use href="#m6" x="714.1" y="772.1"/>
<use href="#m6" x="738.1" y="772.1"/>
<use href="#m6" x="754.2" y="772.1"/>
<use href="#m6" x="775.2" y="772.1"/>
<use href="#m6" x="793.8" y="772.1"/>
<use href="#m6" x="806.4" y="772.1"/>
<use href="#m6" x="827.4" y="772.1"/>
<use href="#m6" x="843.3" y="772.1"/>
<use href="#m6" x="853.2" y="772.1"/>
<use href="#m6" x="862.8" y="772.1"/>
<use href="#m6" x="736.9" y="772.1"/>
<use href="#m6" x="827.3" y="772.1"/>
<use href="#m6" x="867.5" y="772.1"/>
<use href="#m6" x="717.5" y="748.6"/>
<use href="#m6" x="730.9" y="748.6"/>
<use href="#m6" x="750" y="748.6"/>
<use href="#m6" x="772.1" y="748.6"/>
<use href="#m6" x="785" y="748.6"/>
<use href="#m6" x="803" y="748.6"/>
<use href="#m6" x="795.5" y="748.6"/>
<use href="#m6" x="855.5" y="748.6"/>
<use href="#m6" x="786.5" y="727.8"/>
<use href="#m6" x="709.6" y="709.3"/>
<use href="#m6" x="757.7" y="709.3"/>
<use href="#m6" x="774.8" y="709.3"/>
<use href="#m6" x="804.3" y="709.3"/>
<use href="#m7" x="424.6" y="319.7"/>
<use href="#m7" x="393.4" y="430.1"/>
<use href="#m7" x="349.2" y="563.1"/>
<use href="#m7" x="273.9" y="677.2"/>
<use href="#m7" x="485.4" y="241.9"/>
<use href="#m7" x="499.9" y="278.8"/>
<use href="#m7" x="523.8" y="280.5"/>
<use href="#m7" x="552.5" y="297.9"/>
<use href="#m7" x="512.7" y="312.1"/>
<use href="#m7" x="543.8" y="339.6"/>
<use href="#m7" x="534.4" y="346.5"/>
<use href="#m7" x="468.8" y="372.7"/>
<use href="#m7" x="559.3" y="362.2"/>
<use href="#m7" x="448.8" y="430.2"/>
<use href="#m7" x="574.8" y="383.2"/>
<use href="#m7" x="594.3" y="382.4"/>
<use href="#m7" x="582" y="403.7"/>
<use href="#m7" x="587.8" y="403.7"/>
<use href="#m7" x="568.2" y="416.5"/>
<use href="#m7" x="599.1" y="426.3"/>
<use href="#m7" x="609.8" y="437.5"/>
<use href="#m7" x="646.9" y="466"/>
<use href="#m7" x="631.9" y="470"/>
<use href="#m7" x="627.6" y="479.9"/>
<use href="#m7" x="604.7" y="484.2"/>
<use href="#m7" x="614.6" y="488.9"/>
<use href="#m7" x="642.1" y="494.7"/>
<use href="#m7" x="639.9" y="504.8"/>
<use href="#m7" x="618.9" y="510.9"/>
<use href="#m7" x="624" y="510.9"/>
<use href="#m7" x="656.9" y="563.2"/>
<use href="#m7" x="663.9" y="571.1"/>
<use href="#m7" x="650.2" y="616.2"/>
<use href="#m7" x="660.1" y="616.2"/>
<use href="#m7" x="653.8" y="626.8"/>
<use href="#m7" x="675.3" y="626.8"/>
<use href="#m7" x="681.6" y="626.8"/>
<use href="#m7" x="686.7" y="626.8"/>
<use href="#m7" x="670.9" y="638"/>
<use href="#m7" x="706" y="606.1"/>
<use href="#m7" x="666.2" y="616.3"/>
<use href="#m7" x="678.9" y="627"/>
<use href="#m7" x="735.5" y="627"/>
<use href="#m7" x="699.7" y="650.2"/>
<use href="#m7" x="709.7" y="650.2"/>
<use href="#m7" x="692" y="663.3"/>
<use href="#m7" x="749.5" y="663.3"/>
<use href="#m7" x="669" y="677.4"/>
<use href="#m7" x="733.7" y="677.4"/>
<use href="#m7" x="694.3" y="692.8"/>
<use href="#m7" x="715.1" y="692.8"/>
<use href="#m7" x="724.6" y="692.8"/>
<use href="#m7" x="728.7" y="992.4"/>
<use href="#m7" x="742.2" y="992.4"/>
<use href="#m7" x="788.5" y="992.4"/>
<use href="#m7" x="804.4" y="992.4"/>
<use href="#m7" x="821.4" y="992.4"/>
<use href="#m7" x="836.2" y="992.4"/>
<use href="#m7" x="854.4" y="992.4"/>
<use href="#m7" x="866.3" y="992.4"/>
<use href="#m7" x="882.5" y="992.4"/>
<use href="#m7" x="897.6" y="992.4"/>
<use href="#m7" x="912.5" y="992.4"/>
<use href="#m7" x="759" y="921.1"/>
<use href="#m7" x="810.5" y="921.1"/>
<use href="#m7" x="769.1" y="921.1"/>
<use href="#m7" x="780" y="921.1"/>
<use href="#m7" x="790.9" y="921.1"/>
<use href="#m7" x="801.5" y="921.1"/>
<use href="#m7" x="812.2" y="921.1"/>
<use href="#m7" x="827.6" y="921.1"/>
<use href="#m7" x="846.1" y="921.1"/>
<use href="#m7" x="863.9" y="921.1"/>
<use href="#m7" x="877.7" y="921.1"/>
<use href="#m7" x="893.4" y="921.1"/>
<use href="#m7" x="721.8" y="870.5"/>
<use href="#m7" x="730" y="870.5"/>
<use href="#m7" x="736.7" y="870.5"/>
<use href="#m7" x="759.3" y="870.5"/>
<use href="#m7" x="780.2" y="870.5"/>
<use href="#m7" x="802.2" y="870.5"/>
<use href="#m7" x="814.6" y="870.5"/>
<use href="#m7" x="836.4" y="870.5"/>
<use href="#m7" x="851.1" y="870.5"/>
<use href="#m7" x="866.9" y="870.5"/>
<use href="#m7" x="889.2" y="870.5"/>
<use href="#m7" x="786.3" y="870.5"/>
<use href="#m7" x="713" y="831.2"/>
<use href="#m7" x="751.7" y="831.2"/>
<use href="#m7" x="765.7" y="831.2"/>
<use href="#m7" x="786" y="831.2"/>
<use href="#m7" x="804.6" y="831.2"/>
<use href="#m7" x="822.3" y="831.2"/>
<use href="#m7" x="837.1" y="831.2"/>
<use href="#m7" x="851.2" y="831.2"/>
<use href="#m7" x="861.5" y="831.2"/>
<use href="#m7" x="872.7" y="831.2"/>
<use href="#m7" x="883.2" y="831.2"/>
<use href="#m7" x="754.4" y="831.2"/>
<use href="#m7" x="768.5" y="831.2"/>
<use href="#m7" x="772.2" y="831.2"/>
<use href="#m7" x="804" y="831.2"/>
<use href="#m7" x="740.5" y="799.2"/>
<use href="#m7" x="751.8" y="799.2"/>
<use href="#m7" x="766" y="799.2"/>
<use href="#m7" x="777" y="799.2"/>
<use href="#m7" x="797.3" y="799.2"/>
<use href="#m7" x="814" y="799.2"/>
<use href="#m7" x="831.6" y="799.2"/>
<use href="#m7" x="849.3" y="799.2"/>
<use href="#m7" x="775.8" y="799.2"/>
<use href="#m7" x="701" y="772.1"/>
<use href="#m7" x="718.8" y="772.1"/>
<use href="#m7" x="732.2" y="772.1"/>
<use href="#m7" x="745.7" y="772.1"/>
<use href="#m7" x="757.1" y="772.1"/>
<use href="#m7" x="771.1" y="772.1"/>
<use href="#m7" x="784.7" y="772.1"/>
<use href="#m7" x="805.1" y="772.1"/>
<use href="#m7" x="814.7" y="772.1"/>
<use href="#m7" x="833.9" y="772.1"/>
<use href="#m7" x="854.3" y="772.1"/>
<use href="#m7" x="865.4" y="772.1"/>
<use href="#m7" x="757.7" y="772.1"/>
<use href="#m7" x="720.9" y="748.6"/>
<use href="#m7" x="735.6" y="748.6"/>
<use href="#m7" x="747.3" y="748.6"/>
<use href="#m7" x="759" y="748.6"/>
<use href="#m7" x="771.2" y="748.6"/>
<use href="#m7" x="792.4" y="748.6"/>
<use href="#m7" x="808.4" y="748.6"/>
<use href="#m7" x="714.1" y="748.6"/>
<use href="#m7" x="722.8" y="748.6"/>
<use href="#m7" x="732" y="748.6"/>
<use href="#m7" x="742.9" y="748.6"/>
<use href="#m7" x="751" y="748.6"/>
<use href="#m7" x="762.4" y="748.6"/>
<use href="#m7" x="778.4" y="748.6"/>
<use href="#m7" x="801.2" y="748.6"/>
<use href="#m7" x="711.2" y="727.8"/>
<use href="#m7" x="720.5" y="727.8"/>
<use href="#m7" x="745.3" y="727.8"/>
<use href="#m7" x="792.7" y="727.8"/>
<use href="#m7" x="815.2" y="727.8"/>
<use href="#m7" x="762.4" y="709.3"/>
<use href="#m7" x="786.5" y="709.3"/>
<use href="#m8" x="427.3" y="335.1"/>
<use href="#m8" x="383.5" y="422.9"/>
<use href="#m8" x="308.2" y="616.4"/>
<use href="#m8" x="503" y="204.3"/>
<use href="#m8" x="547" y="252.1"/>
<use href="#m8" x="558.4" y="253.5"/>
<use href="#m8" x="568.7" y="258.6"/>
<use href="#m8" x="587.1" y="277.3"/>
<use href="#m8" x="534.4" y="273.7"/>
<use href="#m8" x="483" y="288.2"/>
<use href="#m8" x="458.9" y="309.9"/>
<use href="#m8" x="519.9" y="309.9"/>
<use href="#m8" x="578.2" y="317.7"/>
<use href="#m8" x="602.4" y="337.6"/>
<use href="#m8" x="594.9" y="374.9"/>
<use href="#m8" x="609.5" y="380.3"/>
<use href="#m8" x="622.2" y="391.1"/>
<use href="#m8" x="633.8" y="391.6"/>
<use href="#m8" x="616" y="423"/>
<use href="#m8" x="627.6" y="429.5"/>
<use href="#m8" x="638.9" y="449.1"/>
<use href="#m8" x="648.9" y="449.1"/>
<use href="#m8" x="645.7" y="478.7"/>
<use href="#m8" x="658.7" y="504.1"/>
<use href="#m8" x="674" y="535.3"/>
<use href="#m8" x="681.6" y="548"/>
<use href="#m8" x="666.2" y="556.2"/>
<use href="#m8" x="662" y="579"/>
<use href="#m8" x="698.7" y="587.5"/>
<use href="#m8" x="691.8" y="638"/>
<use href="#m8" x="708.1" y="587.7"/>
<use href="#m8" x="726.6" y="587.7"/>
<use href="#m8" x="735.4" y="596.6"/>
<use href="#m8" x="775.9" y="596.6"/>
<use href="#m8" x="747.4" y="606.1"/>
<use href="#m8" x="703.4" y="616.2"/>
<use href="#m8" x="756.7" y="616.2"/>
<use href="#m8" x="714.2" y="627"/>
<use href="#m8" x="712.4" y="638.5"/>
<use href="#m8" x="723.7" y="638.5"/>
<use href="#m8" x="716.9" y="650.2"/>
<use href="#m8" x="738.2" y="650.2"/>
<use href="#m8" x="749.5" y="650.2"/>
<use href="#m8" x="678" y="663.3"/>
<use href="#m8" x="683.4" y="663.3"/>
<use href="#m8" x="688.9" y="663.3"/>
<use href="#m8" x="697.5" y="663.3"/>
<use href="#m8" x="733.2" y="663.3"/>
<use href="#m8" x="745" y="663.3"/>
<use href="#m8" x="758.6" y="663.3"/>
<use href="#m8" x="693.8" y="677.4"/>
<use href="#m8" x="721.9" y="677.4"/>
<use href="#m8" x="758.1" y="677.4"/>
<use href="#m8" x="729.1" y="692.8"/>
<use href="#m8" x="752.7" y="692.8"/>
<use href="#m8" x="773.1" y="663.3"/>
<use href="#m8" x="766.7" y="692.8"/>
<use href="#m8" x="770.4" y="692.8"/>
<use href="#m8" x="793.6" y="992.4"/>
<use href="#m8" x="812.2" y="992.4"/>
<use href="#m8" x="830" y="992.4"/>
<use href="#m8" x="856.1" y="992.4"/>
<use href="#m8" x="883.4" y="992.4"/>
<use href="#m8" x="897.8" y="992.4"/>
<use href="#m8" x="912.7" y="992.4"/>
<use href="#m8" x="866" y="992.4"/>
<use href="#m8" x="764.3" y="921.1"/>
<use href="#m8" x="791.8" y="921.1"/>
<use href="#m8" x="814.2" y="921.1"/>
<use href="#m8" x="834.6" y="921.1"/>
<use href="#m8" x="861.6" y="921.1"/>
<use href="#m8" x="880.5" y="921.1"/>
<use href="#m8" x="903.3" y="921.1"/>
<use href="#m8" x="760.1" y="870.5"/>
<use href="#m8" x="784.5" y="870.5"/>
<use href="#m8" x="803.5" y="870.5"/>
<use href="#m8" x="840.2" y="870.5"/>
<use href="#m8" x="864.7" y="870.5"/>
<use href="#m8" x="885.8" y="870.5"/>
<use href="#m8" x="815.1" y="870.5"/>
<use href="#m8" x="819" y="870.5"/>
<use href="#m8" x="847" y="870.5"/>
<use href="#m8" x="865.5" y="870.5"/>
<use href="#m8" x="870" y="870.5"/>
<use href="#m8" x="745.3" y="831.2"/>
<use href="#m8" x="771.8" y="831.2"/>
<use href="#m8" x="789.9" y="831.2"/>
<use href="#m8" x="817" y="831.2"/>
<use href="#m8" x="846.4" y="831.2"/>
<use href="#m8" x="876.5" y="831.2"/>
<use href="#m8" x="739.6" y="831.2"/>
<use href="#m8" x="782.6" y="831.2"/>
<use href="#m8" x="810" y="831.2"/>
<use href="#m8" x="813" y="831.2"/>
<use href="#m8" x="817.4" y="831.2"/>
<use href="#m8" x="852.2" y="831.2"/>
<use href="#m8" x="867.7" y="831.2"/>
<use href="#m8" x="769.6" y="799.2"/>
<use href="#m8" x="824.8" y="799.2"/>
<use href="#m8" x="791.2" y="799.2"/>
<use href="#m8" x="805.2" y="799.2"/>
<use href="#m8" x="826.7" y="799.2"/>
<use href="#m8" x="830.7" y="799.2"/>
<use href="#m8" x="869.6" y="799.2"/>
<use href="#m8" x="748.6" y="772.1"/>
<use href="#m8" x="832.5" y="772.1"/>
<use href="#m8" x="765.7" y="772.1"/>
<use href="#m8" x="769" y="772.1"/>
<use href="#m8" x="793.2" y="772.1"/>
<use href="#m8" x="798" y="772.1"/>
<use href="#m8" x="802.6" y="772.1"/>
<use href="#m8" x="806.6" y="772.1"/>
<use href="#m8" x="810.6" y="772.1"/>
<use href="#m8" x="814.6" y="772.1"/>
<use href="#m8" x="818.6" y="772.1"/>
<use href="#m8" x="720.4" y="748.6"/>
<use href="#m8" x="765.6" y="748.6"/>
<use href="#m8" x="806" y="748.6"/>
<use href="#m8" x="769.7" y="748.6"/>
<use href="#m8" x="783.8" y="748.6"/>
<use href="#m8" x="810.6" y="748.6"/>
<use href="#m8" x="815.3" y="748.6"/>
<use href="#m8" x="830" y="748.6"/>
<use href="#m8" x="847.4" y="748.6"/>
<use href="#m8" x="753.9" y="727.8"/>
<use href="#m8" x="773.3" y="727.8"/>
<use href="#m8" x="823.7" y="727.8"/>
<use href="#m8" x="841.5" y="727.8"/>
<use href="#m8" x="750.8" y="709.3"/>
<use href="#m8" x="786.5" y="709.3"/>
<use href="#m8" x="798.9" y="709.3"/>
<use href="#m8" x="838.4" y="709.3"/>
<use href="#m9" x="378.4" y="292.9"/>
<use href="#m9" x="303.4" y="499.5"/>
<use href="#m9" x="497.8" y="71.2"/>
<use href="#m9" x="422.7" y="117.6"/>
<use href="#m9" x="478.1" y="145"/>
<use href="#m9" x="514.7" y="156.7"/>
<use href="#m9" x="453.8" y="189.3"/>
<use href="#m9" x="541.8" y="188.1"/>
<use href="#m9" x="529" y="214.5"/>
<use href="#m9" x="573.3" y="228.9"/>
<use href="#m9" x="590" y="225.6"/>
<use href="#m9" x="553.5" y="234.5"/>
<use href="#m9" x="563.6" y="246.9"/>
<use href="#m9" x="582" y="264.2"/>
<use href="#m9" x="597.5" y="286.1"/>
<use href="#m9" x="611.1" y="304.7"/>
<use href="#m9" x="604.3" y="313.8"/>
<use href="#m9" x="617.3" y="335.4"/>
<use href="#m9" x="628.6" y="374.9"/>
<use href="#m9" x="622.8" y="394.5"/>
<use href="#m9" x="643.5" y="426.6"/>
<use href="#m9" x="633.8" y="433.6"/>
<use href="#m9" x="639.2" y="479.5"/>
<use href="#m9" x="647.9" y="493.9"/>
<use href="#m9" x="652.9" y="504.8"/>
<use href="#m9" x="656.9" y="528.4"/>
<use href="#m9" x="661.4" y="535"/>
<use href="#m9" x="665.2" y="548"/>
<use href="#m9" x="695.6" y="541.4"/>
<use href="#m9" x="676.3" y="555.6"/>
<use href="#m9" x="679.7" y="579"/>
<use href="#m9" x="669.6" y="587.5"/>
<use href="#m9" x="686.1" y="587.5"/>
<use href="#m9" x="672.5" y="616.2"/>
<use href="#m9" x="683.5" y="638.3"/>
<use href="#m9" x="689.2" y="638.3"/>
<use href="#m9" x="706.5" y="638.5"/>
<use href="#m9" x="702.4" y="650.2"/>
<use href="#m9" x="705.2" y="650.2"/>
<use href="#m9" x="709.2" y="663.3"/>
<use href="#m9" x="716.9" y="663.3"/>
<use href="#m9" x="697.9" y="677.4"/>
<use href="#m9" x="711.9" y="677.4"/>
<use href="#m9" x="745.4" y="677.4"/>
<use href="#m9" x="764.9" y="677.4"/>
<use href="#m9" x="774.7" y="992.4"/>
<use href="#m9" x="788" y="992.4"/>
<use href="#m9" x="791.5" y="992.4"/>
<use href="#m9" x="795.9" y="992.4"/>
<use href="#m9" x="800.6" y="992.4"/>
<use href="#m9" x="804.2" y="992.4"/>
<use href="#m9" x="807" y="992.4"/>
<use href="#m9" x="811.2" y="992.4"/>
<use href="#m9" x="815.2" y="992.4"/>
<use href="#m9" x="819.8" y="992.4"/>
<use href="#m9" x="825.6" y="992.4"/>
<use href="#m9" x="830.6" y="992.4"/>
<use href="#m9" x="835.1" y="992.4"/>
<use href="#m9" x="839.9" y="992.4"/>
<use href="#m9" x="844.8" y="992.4"/>
<use href="#m9" x="847.8" y="992.4"/>
<use href="#m9" x="853.5" y="992.4"/>
<use href="#m9" x="858.8" y="992.4"/>
<use href="#m9" x="864.4" y="992.4"/>
<use href="#m9" x="870" y="992.4"/>
<use href="#m9" x="874.1" y="992.4"/>
<use href="#m9" x="877.2" y="992.4"/>
<use href="#m9" x="882" y="992.4"/>
<use href="#m9" x="885" y="992.4"/>
<use href="#m9" x="888.1" y="992.4"/>
<use href="#m9" x="891.5" y="992.4"/>
<use href="#m9" x="894.8" y="992.4"/>
<use href="#m9" x="898.7" y="992.4"/>
<use href="#m9" x="901.7" y="992.4"/>
<use href="#m9" x="904.5" y="992.4"/>
<use href="#m9" x="907.8" y="992.4"/>
<use href="#m9" x="910.9" y="992.4"/>
<use href="#m9" x="914.9" y="992.4"/>
<use href="#m9" x="917.8" y="992.4"/>
<use href="#m9" x="768" y="921.1"/>
<use href="#m9" x="774.5" y="921.1"/>
<use href="#m9" x="782" y="921.1"/>
<use href="#m9" x="788.5" y="921.1"/>
<use href="#m9" x="797.5" y="921.1"/>
<use href="#m9" x="804.5" y="921.1"/>
<use href="#m9" x="808" y="921.1"/>
<use href="#m9" x="813" y="921.1"/>
<use href="#m9" x="818.4" y="921.1"/>
<use href="#m9" x="821.9" y="921.1"/>
<use href="#m9" x="825.5" y="921.1"/>
<use href="#m9" x="829.3" y="921.1"/>
<use href="#m9" x="832.8" y="921.1"/>
<use href="#m9" x="837.5" y="921.1"/>
<use href="#m9" x="841.1" y="921.1"/>
<use href="#m9" x="845.3" y="921.1"/>
<use href="#m9" x="848.5" y="921.1"/>
<use href="#m9" x="854.2" y="921.1"/>
<use href="#m9" x="858.1" y="921.1"/>
<use href="#m9" x="862.4" y="921.1"/>
<use href="#m9" x="867.1" y="921.1"/>
<use href="#m9" x="872.8" y="921.1"/>
<use href="#m9" x="876.9" y="921.1"/>
<use href="#m9" x="882.7" y="921.1"/>
<use href="#m9" x="887.1" y="921.1"/>
<use href="#m9" x="891.6" y="921.1"/>
<use href="#m9" x="896" y="921.1"/>
<use href="#m9" x="898.9" y="921.1"/>
<use href="#m9" x="760.3" y="870.5"/>
<use href="#m9" x="765" y="870.5"/>
<use href="#m9" x="768.5" y="870.5"/>
<use href="#m9" x="773" y="870.5"/>
<use href="#m9" x="778.1" y="870.5"/>
<use href="#m9" x="793.7" y="870.5"/>
<use href="#m9" x="800.3" y="870.5"/>
<use href="#m9" x="807" y="870.5"/>
<use href="#m9" x="824" y="870.5"/>
<use href="#m9" x="830" y="870.5"/>
<use href="#m9" x="834" y="870.5"/>
<use href="#m9" x="838.1" y="870.5"/>
<use href="#m9" x="854.4" y="870.5"/>
<use href="#m9" x="858" y="870.5"/>
<use href="#m9" x="875" y="870.5"/>
<use href="#m9" x="881" y="870.5"/>
<use href="#m9" x="892" y="870.5"/>
<use href="#m9" x="895.9" y="870.5"/>
<use href="#m9" x="747.8" y="831.2"/>
<use href="#m9" x="777.4" y="831.2"/>
<use href="#m9" x="782.6" y="831.2"/>
<use href="#m9" x="790.7" y="831.2"/>
<use href="#m9" x="795.9" y="831.2"/>
<use href="#m9" x="824" y="831.2"/>
<use href="#m9" x="828" y="831.2"/>
<use href="#m9" x="831.4" y="831.2"/>
<use href="#m9" x="837.4" y="831.2"/>
<use href="#m9" x="841" y="831.2"/>
<use href="#m9" x="844" y="831.2"/>
<use href="#m9" x="861.1" y="831.2"/>
<use href="#m9" x="881" y="831.2"/>
<use href="#m9" x="885.5" y="831.2"/>
<use href="#m9" x="743.6" y="799.2"/>
<use href="#m9" x="749.6" y="799.2"/>
<use href="#m9" x="757" y="799.2"/>
<use href="#m9" x="809.9" y="799.2"/>
<use href="#m9" x="813" y="799.2"/>
<use href="#m9" x="817.3" y="799.2"/>
<use href="#m9" x="821.3" y="799.2"/>
<use href="#m9" x="838.7" y="799.2"/>
<use href="#m9" x="728.9" y="772.1"/>
<use href="#m9" x="752.3" y="772.1"/>
<use href="#m9" x="779.8" y="772.1"/>
<use href="#m9" x="785.1" y="772.1"/>
<use href="#m9" x="862.9" y="772.1"/>
<use href="#m9" x="714.1" y="748.6"/>
<use href="#m9" x="722.8" y="748.6"/>
<use href="#m9" x="734.2" y="748.6"/>
<use href="#m9" x="757" y="748.6"/>
<use href="#m9" x="769.7" y="748.6"/>
<use href="#m9" x="789.8" y="748.6"/>
<use href="#m9" x="734.5" y="727.8"/>
<use href="#m9" x="762.4" y="727.8"/>
<use href="#m9" x="692.6" y="709.3"/>
<use href="#m9" x="719" y="709.3"/>
<use href="#m9" x="726" y="709.3"/>
<use href="#m9" x="739.1" y="709.3"/>
</g>
<g clip-path="url(#axclip)">
<path d="M168.5,1121.5 L170.5,1114.6 L172.5,1107.7 L174.5,1100.8 L176.5,1094.0 L178.5,1087.1 L180.5,1080.2 L182.5,1073.3 L184.5,1066.4 L186.5,1059.5 L188.6,1052.6 L190.6,1045.7 L192.6,1038.9 L194.6,1032.0 L196.6,1025.1 L198.6,1018.2 L200.6,1011.3 L202.6,1004.4 L204.6,997.5 L206.6,990.7 L208.6,983.8 L210.6,976.9 L212.6,970.0 L214.6,963.1 L216.6,956.3 L218.6,949.4 L220.6,942.5 L222.6,935.6 L224.6,928.8 L226.6,921.9 L228.7,915.0 L230.7,908.1 L232.7,901.3 L234.7,894.4 L236.7,887.5 L238.7,880.7 L240.7,873.8 L242.7,866.9 L244.7,860.1 L246.7,853.2 L248.7,846.3 L250.7,839.5 L252.7,832.6 L254.7,825.8 L256.7,818.9 L258.7,812.1 L260.7,805.2 L262.7,798.4 L264.7,791.5 L266.7,784.7 L268.8,777.9 L270.8,771.0 L272.8,764.2 L274.8,757.4 L276.8,750.6 L278.8,743.7 L280.8,736.9 L282.8,730.1 L284.8,723.3 L286.8,716.5 L288.8,709.7 L290.8,702.9 L292.8,696.2 L294.8,689.4 L296.8,682.6 L298.8,675.9 L300.8,669.1 L302.8,662.4 L304.8,655.6 L306.8,648.9 L308.9,642.2 L310.9,635.5 L312.9,628.8 L314.9,622.1 L316.9,615.4 L318.9,608.7 L320.9,602.1 L322.9,595.4 L324.9,588.8 L326.9,582.2 L328.9,575.6 L330.9,569.0 L332.9,562.4 L334.9,555.9 L336.9,549.4 L338.9,542.9 L340.9,536.4 L342.9,529.9 L344.9,523.5 L346.9,517.0 L349.0,510.6 L351.0,504.3 L353.0,497.9 L355.0,491.6 L357.0,485.3 L359.0,479.1 L361.0,472.9 L363.0,466.7 L365.0,460.6 L367.0,454.5 L369.0,448.4 L371.0,442.4 L373.0,436.4 L375.0,430.5 L377.0,424.6 L379.0,418.8 L381.0,413.0 L383.0,407.3 L385.0,401.6 L387.0,396.0 L389.1,390.5 L391.1,385.0 L393.1,379.6 L395.1,374.3 L397.1,369.0 L399.1,363.9 L401.1,358.8 L403.1,353.7 L405.1,348.8 L407.1,344.0 L409.1,339.2 L411.1,334.6 L413.1,330.0 L415.1,325.6 L417.1,321.2 L419.1,317.0 L421.1,312.8 L423.1,308.8 L425.1,304.9 L427.1,301.1 L429.2,297.4 L431.2,293.9 L433.2,290.5 L435.2,287.2 L437.2,284.0 L439.2,281.0 L441.2,278.1 L443.2,275.4 L445.2,272.8 L447.2,270.3 L449.2,268.0 L451.2,265.8 L453.2,263.8 L455.2,261.9 L457.2,260.1 L459.2,258.5 L461.2,257.1 L463.2,255.8 L465.2,254.6 L467.2,253.6 L469.3,252.7 L471.3,252.0 L473.3,251.4 L475.3,250.9 L477.3,250.6 L479.3,250.4 L481.3,250.4 L483.3,250.5 L485.3,250.7 L487.3,251.1 L489.3,251.5 L491.3,252.1 L493.3,252.9 L495.3,253.7 L497.3,254.7 L499.3,255.7 L501.3,256.9 L503.3,258.2 L505.3,259.6 L507.3,261.1 L509.4,262.7 L511.4,264.4 L513.4,266.2 L515.4,268.0 L517.4,270.0 L519.4,272.0 L521.4,274.1 L523.4,276.3 L525.4,278.6 L527.4,280.9 L529.4,283.3 L531.4,285.8 L533.4,288.3 L535.4,290.9 L537.4,293.6 L539.4,296.3 L541.4,299.0 L543.4,301.8 L545.4,304.7 L547.4,307.6 L549.5,310.6 L551.5,313.5 L553.5,316.6 L555.5,319.7 L557.5,322.8 L559.5,325.9 L561.5,329.1 L563.5,332.3 L565.5,335.5 L567.5,338.8 L569.5,342.1 L571.5,345.4 L573.5,348.8 L575.5,352.2 L577.5,355.6 L579.5,359.0 L581.5,362.4 L583.5,365.9 L585.5,369.4 L587.5,372.9 L589.6,376.4 L591.6,379.9 L593.6,383.4 L595.6,387.0 L597.6,390.6 L599.6,394.2 L601.6,397.7 L603.6,401.4 L605.6,405.0 L607.6,408.6 L609.6,412.2 L611.6,415.9 L613.6,419.6 L615.6,423.2 L617.6,426.9 L619.6,430.6 L621.6,434.3 L623.6,438.0 L625.6,441.7 L627.6,445.4 L629.7,449.1 L631.7,452.8 L633.7,456.5 L635.7,460.3 L637.7,464.0 L639.7,467.8 L641.7,471.5 L643.7,475.3 L645.7,479.0 L647.7,482.8 L649.7,486.5 L651.7,490.3 L653.7,494.1 L655.7,497.8 L657.7,501.6 L659.7,505.4 L661.7,509.1 L663.7,512.9 L665.7,516.7 L667.7,520.5 L669.8,524.3 L671.8,528.1 L673.8,531.9 L675.8,535.7 L677.8,539.4 L679.8,543.2 L681.8,547.0 L683.8,550.8 L685.8,554.6 L687.8,558.4 L689.8,562.2 L691.8,566.0 L693.8,569.8 L695.8,573.6 L697.8,577.5 L699.8,581.3 L701.8,585.1 L703.8,588.9 L705.8,592.7 L707.8,596.5 L709.9,600.3 L711.9,604.1 L713.9,607.9 L715.9,611.7 L717.9,615.6 L719.9,619.4 L721.9,623.2 L723.9,627.0 L725.9,630.8 L727.9,634.6 L729.9,638.4 L731.9,642.3 L733.9,646.1 L735.9,649.9 L737.9,653.7 L739.9,657.5 L741.9,661.3 L743.9,665.2 L745.9,669.0 L747.9,672.8 L750.0,676.6 L752.0,680.4 L754.0,684.2 L756.0,688.1 L758.0,691.9 L760.0,695.7 L762.0,699.5 L764.0,703.3 L766.0,707.2 L768.0,711.0 L770.0,714.8 L772.0,718.6 L774.0,722.4 L776.0,726.3 L778.0,730.1 L780.0,733.9 L782.0,737.7 L784.0,741.5 L786.0,745.4 L788.0,749.2 L790.1,753.0 L792.1,756.8 L794.1,760.7 L796.1,764.5 L798.1,768.3 L800.1,772.1 L802.1,775.9 L804.1,779.8 L806.1,783.6 L808.1,787.4 L810.1,791.2 L812.1,795.0 L814.1,798.9 L816.1,802.7 L818.1,806.5 L820.1,810.3 L822.1,814.2 L824.1,818.0 L826.1,821.8 L828.1,825.6 L830.2,829.4 L832.2,833.3 L834.2,837.1 L836.2,840.9 L838.2,844.7 L840.2,848.6 L842.2,852.4 L844.2,856.2 L846.2,860.0 L848.2,863.8 L850.2,867.7 L852.2,871.5 L854.2,875.3 L856.2,879.1 L858.2,883.0 L860.2,886.8 L862.2,890.6 L864.2,894.4 L866.2,898.2 L868.2,902.1 L870.3,905.9 L872.3,909.7 L874.3,913.5 L876.3,917.4 L878.3,921.2 L880.3,925.0 L882.3,928.8 L884.3,932.6 L886.3,936.5 L888.3,940.3 L890.3,944.1 L892.3,947.9 L894.3,951.8 L896.3,955.6 L898.3,959.4 L900.3,963.2 L902.3,967.0 L904.3,970.9 L906.3,974.7 L908.3,978.5 L910.4,982.3 L912.4,986.2 L914.4,990.0 L916.4,993.8 L918.4,997.6 L920.4,1001.5 L922.4,1005.3 L924.4,1009.1 L926.4,1012.9 L928.4,1016.7 L930.4,1020.6 L932.4,1024.4 L934.4,1028.2 L936.4,1032.0 L938.4,1035.9 L940.4,1039.7 L942.4,1043.5 L944.4,1047.3 L946.4,1051.1 L948.4,1055.0 L950.5,1058.8 L952.5,1062.6 L954.5,1066.4 L956.5,1070.3 L958.5,1074.1 L960.5,1077.9 L962.5,1081.7 L964.5,1085.5 L966.5,1089.4 L968.5,1093.2" fill="none" stroke="#000" stroke-width="3.2"/>
<path d="M143.5,680.9 L145.0,678.7 L146.5,676.5 L148.0,674.3 L149.5,672.1 L151.0,669.9 L152.5,667.7 L154.0,665.5 L155.5,663.3 L157.0,661.1 L158.5,658.9 L160.0,656.7 L161.5,654.5 L163.0,652.3 L164.6,650.1 L166.1,647.9 L167.6,645.8 L169.1,643.6 L170.6,641.4 L172.1,639.2 L173.6,637.0 L175.1,634.8 L176.6,632.6 L178.1,630.4 L179.6,628.3 L181.1,626.1 L182.6,623.9 L184.1,621.7 L185.6,619.5 L187.1,617.4 L188.6,615.2 L190.1,613.0 L191.6,610.8 L193.1,608.6 L194.6,606.5 L196.1,604.3 L197.6,602.1 L199.1,600.0 L200.6,597.8 L202.1,595.6 L203.7,593.5 L205.2,591.3 L206.7,589.1 L208.2,587.0 L209.7,584.8 L211.2,582.6 L212.7,580.5 L214.2,578.3 L215.7,576.2 L217.2,574.0 L218.7,571.9 L220.2,569.7 L221.7,567.6 L223.2,565.4 L224.7,563.3 L226.2,561.1 L227.7,559.0 L229.2,556.8 L230.7,554.7 L232.2,552.5 L233.7,550.4 L235.2,548.3 L236.7,546.1 L238.2,544.0 L239.7,541.9 L241.2,539.8 L242.7,537.6 L244.3,535.5 L245.8,533.4 L247.3,531.3 L248.8,529.2 L250.3,527.0 L251.8,524.9 L253.3,522.8 L254.8,520.7 L256.3,518.6 L257.8,516.5 L259.3,514.4 L260.8,512.3 L262.3,510.2 L263.8,508.1 L265.3,506.0 L266.8,504.0 L268.3,501.9 L269.8,499.8 L271.3,497.7 L272.8,495.6 L274.3,493.6 L275.8,491.5 L277.3,489.4 L278.8,487.4 L280.3,485.3 L281.8,483.3 L283.3,481.2 L284.9,479.2 L286.4,477.1 L287.9,475.1 L289.4,473.0 L290.9,471.0 L292.4,469.0 L293.9,466.9 L295.4,464.9 L296.9,462.9 L298.4,460.9 L299.9,458.9 L301.4,456.9 L302.9,454.9 L304.4,452.9 L305.9,450.9 L307.4,448.9 L308.9,446.9 L310.4,444.9 L311.9,442.9 L313.4,441.0 L314.9,439.0 L316.4,437.0 L317.9,435.1 L319.4,433.1 L320.9,431.2 L322.4,429.2 L324.0,427.3 L325.5,425.4 L327.0,423.4 L328.5,421.5 L330.0,419.6 L331.5,417.7 L333.0,415.8 L334.5,413.9 L336.0,412.0 L337.5,410.1 L339.0,408.2 L340.5,406.3 L342.0,404.5 L343.5,402.6 L345.0,400.8 L346.5,398.9 L348.0,397.1 L349.5,395.2 L351.0,393.4 L352.5,391.6 L354.0,389.8 L355.5,388.0 L357.0,386.2 L358.5,384.4 L360.0,382.6 L361.5,380.8 L363.0,379.0 L364.6,377.3 L366.1,375.5 L367.6,373.8 L369.1,372.0 L370.6,370.3 L372.1,368.6 L373.6,366.9 L375.1,365.2 L376.6,363.5 L378.1,361.8 L379.6,360.1 L381.1,358.5 L382.6,356.8 L384.1,355.2 L385.6,353.5 L387.1,351.9 L388.6,350.3 L390.1,348.7 L391.6,347.1 L393.1,345.5 L394.6,343.9 L396.1,342.4 L397.6,340.8 L399.1,339.3 L400.6,337.8 L402.1,336.2 L403.7,334.7 L405.2,333.2 L406.7,331.8 L408.2,330.3 L409.7,328.8 L411.2,327.4 L412.7,326.0 L414.2,324.5 L415.7,323.1 L417.2,321.8 L418.7,320.4 L420.2,319.0 L421.7,317.7 L423.2,316.3 L424.7,315.0 L426.2,313.7 L427.7,312.4 L429.2,311.2 L430.7,309.9 L432.2,308.7 L433.7,307.4 L435.2,306.2 L436.7,305.0 L438.2,303.8 L439.7,302.7 L441.2,301.5 L442.7,300.4 L444.3,299.3 L445.8,298.2 L447.3,297.2 L448.8,296.1 L450.3,295.1 L451.8,294.1 L453.3,293.1 L454.8,292.1 L456.3,291.1 L457.8,290.2 L459.3,289.3 L460.8,288.4 L462.3,287.5 L463.8,286.7 L465.3,285.9 L466.8,285.1 L468.3,284.3 L469.8,283.5 L471.3,282.8 L472.8,282.1 L474.3,281.4 L475.8,280.7 L477.3,280.1 L478.8,279.5 L480.3,278.9 L481.8,278.3 L483.3,277.8 L484.9,277.3 L486.4,276.8 L487.9,276.3 L489.4,275.9 L490.9,275.5 L492.4,275.1 L493.9,274.8 L495.4,274.5 L496.9,274.2 L498.4,273.9 L499.9,273.7 L501.4,273.5 L502.9,273.4 L504.4,273.2 L505.9,273.2 L507.4,273.1 L508.9,273.1 L510.4,273.1 L511.9,273.1 L513.4,273.2 L514.9,273.3 L516.4,273.5 L517.9,273.7 L519.4,273.9 L520.9,274.1 L522.4,274.4 L524.0,274.8 L525.5,275.2 L527.0,275.6 L528.5,276.0 L530.0,276.5 L531.5,277.1 L533.0,277.7 L534.5,278.3 L536.0,279.0 L537.5,279.7 L539.0,280.5 L540.5,281.3 L542.0,282.1 L543.5,283.0 L545.0,284.0 L546.5,285.0 L548.0,286.0 L549.5,287.1 L551.0,288.3 L552.5,289.5 L554.0,290.7 L555.5,292.1 L557.0,293.4 L558.5,294.8 L560.0,296.3 L561.5,297.8 L563.0,299.4 L564.6,301.1 L566.1,302.8 L567.6,304.5 L569.1,306.4 L570.6,308.2 L572.1,310.2 L573.6,312.2 L575.1,314.3 L576.6,316.4 L578.1,318.6 L579.6,320.9 L581.1,323.2 L582.6,325.6 L584.1,328.1 L585.6,330.7 L587.1,333.3 L588.6,336.0 L590.1,338.8 L591.6,341.6 L593.1,344.5 L594.6,347.6 L596.1,350.6 L597.6,353.8 L599.1,357.0 L600.6,360.4 L602.1,363.8 L603.7,367.3 L605.2,370.8 L606.7,374.5 L608.2,378.3 L609.7,382.1 L611.2,386.1 L612.7,390.1 L614.2,394.2 L615.7,398.4 L617.2,402.7 L618.7,407.2 L620.2,411.7 L621.7,416.3 L623.2,421.0 L624.7,425.8 L626.2,430.8 L627.7,435.8 L629.2,440.9 L630.7,446.2 L632.2,451.5 L633.7,457.0 L635.2,462.6 L636.7,468.3 L638.2,474.2 L639.7,480.1 L641.2,486.2 L642.7,492.4 L644.3,498.7 L645.8,505.2 L647.3,511.7 L648.8,518.5 L650.3,525.3 L651.8,532.3 L653.3,539.4 L654.8,546.7 L656.3,554.0 L657.8,561.6 L659.3,569.3 L660.8,577.1 L662.3,585.1 L663.8,593.2 L665.3,601.5 L666.8,610.0 L668.3,618.6 L669.8,627.3 L671.3,636.3 L672.8,645.4 L674.3,654.6 L675.8,664.1 L677.3,673.7 L678.8,683.5 L680.3,693.4 L681.8,703.6 L683.3,713.9 L684.9,724.4 L686.4,735.1 L687.9,746.0 L689.4,757.1 L690.9,768.4 L692.4,779.9 L693.9,791.6 L695.4,803.5 L696.9,815.6 L698.4,827.9 L699.9,840.4 L701.4,853.2 L702.9,866.2 L704.4,879.4 L705.9,892.8 L707.4,906.5 L708.9,920.3 L710.4,934.5 L711.9,948.9 L713.4,963.5 L714.9,978.4 L716.4,993.5 L717.9,1008.9 L719.4,1024.5 L720.9,1040.4 L722.4,1056.6 L724.0,1073.0 L725.5,1089.7 L727.0,1106.7 L728.5,1124.0 L730.0,1141.6 L731.5,1159.5 L733.0,1177.6 L734.5,1196.1 L736.0,1214.9 L737.5,1233.9 L739.0,1253.3 L740.5,1273.1 L742.0,1293.1 L743.5,1313.5" fill="none" stroke="#f00" stroke-width="3.2" stroke-dasharray="12.1,5.2" stroke-dashoffset="11.12"/>
</g>
<rect x="143.5" y="0.8" width="1250.1" height="1007.8000000000001" fill="none" stroke="#000" stroke-width="2.4"/>
<path d="M143.5,1008.6 v7.3 M218.8,1008.6 v4.2 M262.8,1008.6 v4.2 M294,1008.6 v4.2 M318.2,1008.6 v4.2 M338,1008.6 v4.2 M354.8,1008.6 v4.2 M369.3,1008.6 v4.2 M382.1,1008.6 v4.2 M393.5,1008.6 v7.3 M468.8,1008.6 v4.2 M512.8,1008.6 v4.2 M544,1008.6 v4.2 M568.2,1008.6 v4.2 M588,1008.6 v4.2 M604.8,1008.6 v4.2 M619.3,1008.6 v4.2 M632.1,1008.6 v4.2 M643.5,1008.6 v7.3 M718.8,1008.6 v4.2 M762.8,1008.6 v4.2 M794,1008.6 v4.2 M818.2,1008.6 v4.2 M838,1008.6 v4.2 M854.8,1008.6 v4.2 M869.3,1008.6 v4.2 M882.1,1008.6 v4.2 M893.5,1008.6 v7.3 M968.8,1008.6 v4.2 M1012.8,1008.6 v4.2 M1044,1008.6 v4.2 M1068.2,1008.6 v4.2 M1088,1008.6 v4.2 M1104.8,1008.6 v4.2 M1119.3,1008.6 v4.2 M1132.1,1008.6 v4.2 M1143.5,1008.6 v7.3 M1218.8,1008.6 v4.2 M1262.8,1008.6 v4.2 M1294,1008.6 v4.2 M1318.2,1008.6 v4.2 M1338,1008.6 v4.2 M1354.8,1008.6 v4.2 M1369.3,1008.6 v4.2 M1382.1,1008.6 v4.2 M1393.5,1008.6 v7.3 M143.5,122.9 h-7.3 M143.5,527.9 h-7.3 M143.5,932.9 h-7.3 M143.5,995.6 h-4.2 M143.5,972.1 h-4.2 M143.5,951.4 h-4.2 M143.5,811 h-4.2 M143.5,739.7 h-4.2 M143.5,689.1 h-4.2 M143.5,649.8 h-4.2 M143.5,617.7 h-4.2 M143.5,590.6 h-4.2 M143.5,567.1 h-4.2 M143.5,546.4 h-4.2 M143.5,406 h-4.2 M143.5,334.7 h-4.2 M143.5,284.1 h-4.2 M143.5,244.8 h-4.2 M143.5,212.7 h-4.2 M143.5,185.6 h-4.2 M143.5,162.1 h-4.2 M143.5,141.4 h-4.2 M143.5,1 h-4.2" stroke="#000" stroke-width="2.1" fill="none"/>
<text x="117.1" y="1047.3" font-size="31" textLength="37.6" lengthAdjust="spacingAndGlyphs">10</text>
<text x="155.4" y="1036.0" font-size="22.5" textLength="13.9" lengthAdjust="spacingAndGlyphs">0</text>
<text x="367.1" y="1047.3" font-size="31" textLength="37.6" lengthAdjust="spacingAndGlyphs">10</text>
<text x="405.4" y="1036.0" font-size="22.5" textLength="13.9" lengthAdjust="spacingAndGlyphs">1</text>
<text x="617.1" y="1047.3" font-size="31" textLength="37.6" lengthAdjust="spacingAndGlyphs">10</text>
<text x="655.4" y="1036.0" font-size="22.5" textLength="13.9" lengthAdjust="spacingAndGlyphs">2</text>
<text x="867.1" y="1047.3" font-size="31" textLength="37.6" lengthAdjust="spacingAndGlyphs">10</text>
<text x="905.4" y="1036.0" font-size="22.5" textLength="13.9" lengthAdjust="spacingAndGlyphs">3</text>
<text x="1117.1" y="1047.3" font-size="31" textLength="37.6" lengthAdjust="spacingAndGlyphs">10</text>
<text x="1155.4" y="1036.0" font-size="22.5" textLength="13.9" lengthAdjust="spacingAndGlyphs">4</text>
<text x="1367.1" y="1047.3" font-size="31" textLength="37.6" lengthAdjust="spacingAndGlyphs">10</text>
<text x="1405.4" y="1036.0" font-size="22.5" textLength="13.9" lengthAdjust="spacingAndGlyphs">5</text>
<text x="57.5" y="133.5" font-size="31" textLength="37.6" lengthAdjust="spacingAndGlyphs">10</text>
<rect x="97.8" y="114.4" width="13.3" height="1.9" fill="#000"/>
<text x="113.2" y="123.1" font-size="22.5" textLength="13.9" lengthAdjust="spacingAndGlyphs">2</text>
<text x="57.5" y="538.5" font-size="31" textLength="37.6" lengthAdjust="spacingAndGlyphs">10</text>
<rect x="97.8" y="519.4" width="13.3" height="1.9" fill="#000"/>
<text x="113.2" y="528.1" font-size="22.5" textLength="13.9" lengthAdjust="spacingAndGlyphs">3</text>
<text x="57.5" y="943.5" font-size="31" textLength="37.6" lengthAdjust="spacingAndGlyphs">10</text>
<rect x="97.8" y="924.4" width="13.3" height="1.9" fill="#000"/>
<text x="113.2" y="933.1" font-size="22.5" textLength="13.9" lengthAdjust="spacingAndGlyphs">4</text>
<text x="314" y="1097.6" font-size="47" font-style="italic" textLength="110" lengthAdjust="spacingAndGlyphs">inter</text>
<text x="438" y="1097.6" font-size="47" textLength="30" lengthAdjust="spacingAndGlyphs">−</text>
<text x="484.5" y="1097.6" font-size="47" font-style="italic" textLength="411.5" lengthAdjust="spacingAndGlyphs">occurrence times</text>
<text x="907.5" y="1097.6" font-size="47" textLength="11" lengthAdjust="spacingAndGlyphs">(</text>
<text x="924" y="1097.6" font-size="47" font-style="italic" textLength="279" lengthAdjust="spacingAndGlyphs">miliseconds</text>
<text x="1210" y="1097.6" font-size="47" textLength="11.5" lengthAdjust="spacingAndGlyphs">)</text>
<text transform="translate(36.6,654) rotate(-90)" font-size="47" font-style="italic" textLength="296" lengthAdjust="spacingAndGlyphs">probabilities</text>
<rect x="1145.6" y="565.4" width="236.4" height="430.8" rx="4" fill="#fff" fill-opacity="0.8" stroke="#ccc" stroke-width="2"/>
<use href="#m0" x="1179" y="584.7"/>
<text x="1223.5" y="593.7" font-size="25" textLength="61.8" lengthAdjust="spacingAndGlyphs">B006</text>
<use href="#m1" x="1179" y="619.7"/>
<text x="1223.5" y="628.7" font-size="25" textLength="61.8" lengthAdjust="spacingAndGlyphs">B008</text>
<use href="#m2" x="1179" y="654.8"/>
<text x="1223.5" y="663.8" font-size="25" textLength="61.8" lengthAdjust="spacingAndGlyphs">B009</text>
<use href="#m3" x="1179" y="689.8"/>
<text x="1223.5" y="698.8" font-size="25" textLength="61.8" lengthAdjust="spacingAndGlyphs">B010</text>
<use href="#m4" x="1179" y="724.8"/>
<text x="1223.5" y="733.8" font-size="25" textLength="61.8" lengthAdjust="spacingAndGlyphs">B012</text>
<use href="#m5" x="1179" y="759.9"/>
<text x="1223.5" y="768.9" font-size="25" textLength="61.8" lengthAdjust="spacingAndGlyphs">B014</text>
<use href="#m6" x="1179" y="794.9"/>
<text x="1223.5" y="803.9" font-size="25" textLength="61.8" lengthAdjust="spacingAndGlyphs">B015</text>
<use href="#m7" x="1179" y="829.9"/>
<text x="1223.5" y="838.9" font-size="25" textLength="61.8" lengthAdjust="spacingAndGlyphs">B016</text>
<use href="#m8" x="1179" y="864.9"/>
<text x="1223.5" y="873.9" font-size="25" textLength="61.8" lengthAdjust="spacingAndGlyphs">B017</text>
<use href="#m9" x="1179" y="900"/>
<text x="1223.5" y="909" font-size="25" textLength="61.8" lengthAdjust="spacingAndGlyphs">B018</text>
<path d="M1153.5,937 h51.3" stroke="#000" stroke-width="3.2"/>
<text x="1223" y="943.8" font-size="25" font-style="italic" textLength="130.8" lengthAdjust="spacingAndGlyphs">q statistics</text>
<path d="M1154.8,973.4 h47" stroke="#f00" stroke-width="3.2" stroke-dasharray="12.1,5.2"/>
<text x="1223" y="980.5" font-size="25" font-style="italic" textLength="149.4" lengthAdjust="spacingAndGlyphs">BG statistics</text>
<g id="head">
<path d="M700.4,251.1 A18.6,18.6 0 0 0 734.9,253.5" fill="none" stroke="#000" stroke-width="1.9"/>
<path d="M706.1,252.7 A10.7,10.7 0 0 0 725.6,246.2" fill="none" stroke="#000" stroke-width="1.9"/>
<circle cx="709.3" cy="232.8" r="18.6" fill="#fff" stroke="#000" stroke-width="1.9"/>
<path d="M1153.4,251.1 A18.6,18.6 0 0 1 1118.9,253.5" fill="none" stroke="#000" stroke-width="1.9"/>
<path d="M1147.7,252.7 A10.7,10.7 0 0 1 1128.2,246.2" fill="none" stroke="#000" stroke-width="1.9"/>
<circle cx="1144.5" cy="232.8" r="18.6" fill="#fff" stroke="#000" stroke-width="1.9"/>
<path d="M888.6,50.5 A22,22 0 0 1 908.8,35.6 L909,33.5 A18.4,18.4 0 0 1 944.2,33.5 L944.4,35.6 A22,22 0 0 1 964.6,50.5" fill="#fff" stroke="#000" stroke-width="1.9"/>
<ellipse cx="926.5" cy="242.3" rx="190.4" ry="195" fill="#fff" stroke="#000" stroke-width="2"/>
<text x="709.3" y="239.2" font-size="17.5" text-anchor="middle" fill="#333">A1</text>
<text x="1144.5" y="239.2" font-size="17.5" text-anchor="middle" fill="#333">A2</text>
<ellipse cx="926.5" cy="242.3" rx="152.2" ry="156.3" fill="none" stroke="#000" stroke-width="2" stroke-dasharray="7.5,7"/>
<path d="M736.5,242.3 H1117" stroke="#000" stroke-width="2.2" stroke-dasharray="7,8.23" stroke-dashoffset="7.53" fill="none"/>
<path d="M926.5,46.8 V436" stroke="#000" stroke-width="2.2" stroke-dasharray="7.5,8.15" fill="none"/>
<circle cx="877.9" cy="96.0" r="18.3" fill="#fff" stroke="#000" stroke-width="1.9"/>
<text x="877.9" y="102.6" font-size="17.5" text-anchor="middle" fill="#333">Fp1</text>
<circle cx="975.4" cy="96.0" r="18.3" fill="#fff" stroke="#000" stroke-width="1.9"/>
<text x="975.4" y="102.6" font-size="17.5" text-anchor="middle" fill="#333">Fp2</text>
<circle cx="803.3" cy="152.2" r="18.3" fill="#fff" stroke="#000" stroke-width="1.9"/>
<text x="803.3" y="158.8" font-size="17.5" text-anchor="middle" fill="#333">F7</text>
<circle cx="1050.0" cy="151.8" r="18.3" fill="#fff" stroke="#000" stroke-width="1.9"/>
<text x="1050.0" y="158.4" font-size="17.5" text-anchor="middle" fill="#333">F8</text>
<circle cx="864.3" cy="164.0" r="18.3" fill="#fff" stroke="#000" stroke-width="1.9"/>
<text x="864.3" y="170.6" font-size="17.5" text-anchor="middle" fill="#333">F3</text>
<circle cx="926.5" cy="164.0" r="18.3" fill="#fff" stroke="#000" stroke-width="1.9"/>
<text x="926.5" y="170.6" font-size="17.5" text-anchor="middle" fill="#333">Fz</text>
<circle cx="988.8" cy="164.0" r="18.3" fill="#fff" stroke="#000" stroke-width="1.9"/>
<text x="988.8" y="170.6" font-size="17.5" text-anchor="middle" fill="#333">F4</text>
<circle cx="774.5" cy="242.3" r="18.3" fill="#fff" stroke="#000" stroke-width="1.9"/>
<text x="774.5" y="248.9" font-size="17.5" text-anchor="middle" fill="#333">T3</text>
<circle cx="850.5" cy="242.3" r="18.3" fill="#fff" stroke="#000" stroke-width="1.9"/>
<text x="850.5" y="248.9" font-size="17.5" text-anchor="middle" fill="#333">C3</text>
<circle cx="926.5" cy="242.3" r="18.3" fill="#fff" stroke="#000" stroke-width="1.9"/>
<text x="926.5" y="248.9" font-size="17.5" text-anchor="middle" fill="#333">Cz</text>
<circle cx="1002.5" cy="242.3" r="18.3" fill="#fff" stroke="#000" stroke-width="1.9"/>
<text x="1002.5" y="248.9" font-size="17.5" text-anchor="middle" fill="#333">C4</text>
<circle cx="1079.0" cy="242.5" r="18.3" fill="#fff" stroke="#000" stroke-width="1.9"/>
<text x="1079.0" y="249.1" font-size="17.5" text-anchor="middle" fill="#333">T4</text>
<circle cx="803.5" cy="333.0" r="18.3" fill="#fff" stroke="#000" stroke-width="1.9"/>
<text x="803.5" y="339.6" font-size="17.5" text-anchor="middle" fill="#333">T5</text>
<circle cx="864.3" cy="321.2" r="18.3" fill="#fff" stroke="#000" stroke-width="1.9"/>
<text x="864.3" y="327.8" font-size="17.5" text-anchor="middle" fill="#333">P3</text>
<circle cx="926.5" cy="320.8" r="17.5" fill="#fff" stroke="#e8151d" stroke-width="4.2"/>
<text x="926.5" y="327.4" font-size="17.5" text-anchor="middle" fill="#333">Pz</text>
<circle cx="988.8" cy="321.5" r="18.3" fill="#fff" stroke="#000" stroke-width="1.9"/>
<text x="988.8" y="328.1" font-size="17.5" text-anchor="middle" fill="#333">P4</text>
<circle cx="1050.0" cy="333.3" r="18.3" fill="#fff" stroke="#000" stroke-width="1.9"/>
<text x="1050.0" y="339.9" font-size="17.5" text-anchor="middle" fill="#333">T6</text>
<circle cx="878.2" cy="390.4" r="18.3" fill="#fff" stroke="#000" stroke-width="1.9"/>
<text x="878.2" y="397.0" font-size="17.5" text-anchor="middle" fill="#333">O1</text>
<circle cx="974.5" cy="390.4" r="18.3" fill="#fff" stroke="#000" stroke-width="1.9"/>
<text x="974.5" y="397.0" font-size="17.5" text-anchor="middle" fill="#333">O2</text>
<text x="928.5" y="70.3" font-size="17" text-anchor="middle" fill="#333">NASION</text>
<text x="928.5" y="457" font-size="17" text-anchor="middle" fill="#333">INION</text>
</g>
</svg></body></html>
